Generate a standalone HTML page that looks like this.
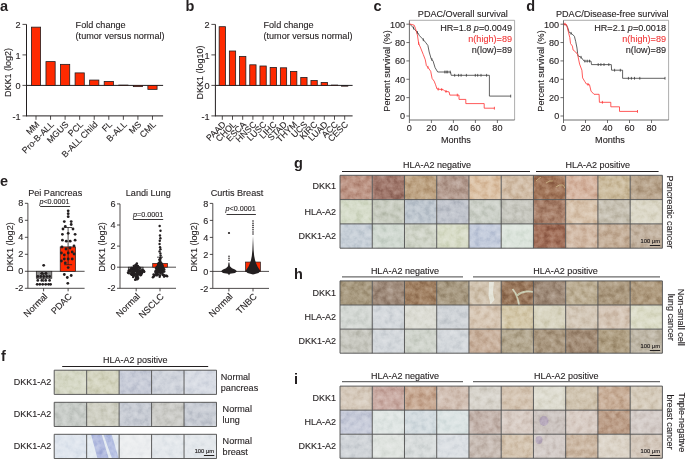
<!DOCTYPE html>
<html><head><meta charset="utf-8"><style>
html,body{margin:0;padding:0;background:#fff;}
body{width:685px;height:459px;overflow:hidden;}
svg{display:block;will-change:transform;}
text{font-family:"Liberation Sans", sans-serif;}
</style></head><body>
<svg width="685" height="459" viewBox="0 0 685 459">
<text x="0.00" y="11.20" font-size="14.5" text-anchor="start" font-weight="bold" fill="#231f20">a</text>
<line x1="26.50" y1="24.40" x2="26.50" y2="116.40" stroke="#231f20" stroke-width="1.0"/>
<line x1="22.50" y1="24.40" x2="26.50" y2="24.40" stroke="#231f20" stroke-width="0.8"/>
<text x="20.70" y="28.20" font-size="9.2" text-anchor="end" fill="#231f20" stroke="#231f20" stroke-width="0.12">2</text>
<line x1="22.50" y1="54.90" x2="26.50" y2="54.90" stroke="#231f20" stroke-width="0.8"/>
<text x="20.70" y="58.70" font-size="9.2" text-anchor="end" fill="#231f20" stroke="#231f20" stroke-width="0.12">1</text>
<line x1="22.50" y1="85.40" x2="26.50" y2="85.40" stroke="#231f20" stroke-width="0.8"/>
<text x="20.70" y="89.20" font-size="9.2" text-anchor="end" fill="#231f20" stroke="#231f20" stroke-width="0.12">0</text>
<line x1="22.50" y1="115.90" x2="26.50" y2="115.90" stroke="#231f20" stroke-width="0.8"/>
<text x="20.70" y="119.70" font-size="9.2" text-anchor="end" fill="#231f20" stroke="#231f20" stroke-width="0.12">-1</text>
<text x="10.50" y="72.50" font-size="9" text-anchor="middle" fill="#231f20" stroke="#231f20" stroke-width="0.12" transform="rotate(-90 10.5 72.5)">DKK1 (log2)</text>
<line x1="26.50" y1="85.40" x2="163.10" y2="85.40" stroke="#231f20" stroke-width="1.0"/>
<line x1="26.50" y1="115.90" x2="163.10" y2="115.90" stroke="#231f20" stroke-width="1.0"/>
<line x1="36.00" y1="115.90" x2="36.00" y2="119.80" stroke="#231f20" stroke-width="0.8"/>
<rect x="31.40" y="27.15" width="9.20" height="58.25" fill="#ff2a00" stroke="#231f20" stroke-width="0.8"/>
<text x="40.00" y="125.00" font-size="8.8" text-anchor="end" fill="#231f20" stroke="#231f20" stroke-width="0.12" transform="rotate(-45 40.0 125.0)">MM</text>
<line x1="50.56" y1="115.90" x2="50.56" y2="119.80" stroke="#231f20" stroke-width="0.8"/>
<rect x="45.96" y="61.61" width="9.20" height="23.79" fill="#ff2a00" stroke="#231f20" stroke-width="0.8"/>
<text x="54.56" y="125.00" font-size="8.8" text-anchor="end" fill="#231f20" stroke="#231f20" stroke-width="0.12" transform="rotate(-45 54.56 125.0)">Pro-B-ALL</text>
<line x1="65.12" y1="115.90" x2="65.12" y2="119.80" stroke="#231f20" stroke-width="0.8"/>
<rect x="60.52" y="64.36" width="9.20" height="21.05" fill="#ff2a00" stroke="#231f20" stroke-width="0.8"/>
<text x="69.12" y="125.00" font-size="8.8" text-anchor="end" fill="#231f20" stroke="#231f20" stroke-width="0.12" transform="rotate(-45 69.12 125.0)">MGUS</text>
<line x1="79.68" y1="115.90" x2="79.68" y2="119.80" stroke="#231f20" stroke-width="0.8"/>
<rect x="75.08" y="72.90" width="9.20" height="12.50" fill="#ff2a00" stroke="#231f20" stroke-width="0.8"/>
<text x="83.68" y="125.00" font-size="8.8" text-anchor="end" fill="#231f20" stroke="#231f20" stroke-width="0.12" transform="rotate(-45 83.68 125.0)">PCL</text>
<line x1="94.24" y1="115.90" x2="94.24" y2="119.80" stroke="#231f20" stroke-width="0.8"/>
<rect x="89.64" y="80.06" width="9.20" height="5.34" fill="#ff2a00" stroke="#231f20" stroke-width="0.8"/>
<text x="98.24" y="125.00" font-size="8.8" text-anchor="end" fill="#231f20" stroke="#231f20" stroke-width="0.12" transform="rotate(-45 98.24000000000001 125.0)">B-ALL Child</text>
<line x1="108.80" y1="115.90" x2="108.80" y2="119.80" stroke="#231f20" stroke-width="0.8"/>
<rect x="104.20" y="81.44" width="9.20" height="3.97" fill="#ff2a00" stroke="#231f20" stroke-width="0.8"/>
<text x="112.80" y="125.00" font-size="8.8" text-anchor="end" fill="#231f20" stroke="#231f20" stroke-width="0.12" transform="rotate(-45 112.8 125.0)">FL</text>
<line x1="123.36" y1="115.90" x2="123.36" y2="119.80" stroke="#231f20" stroke-width="0.8"/>
<rect x="118.76" y="85.09" width="9.20" height="0.31" fill="#ff2a00" stroke="#231f20" stroke-width="0.8"/>
<text x="127.36" y="125.00" font-size="8.8" text-anchor="end" fill="#231f20" stroke="#231f20" stroke-width="0.12" transform="rotate(-45 127.36 125.0)">B-ALL</text>
<line x1="137.92" y1="115.90" x2="137.92" y2="119.80" stroke="#231f20" stroke-width="0.8"/>
<rect x="133.32" y="85.40" width="9.20" height="1.22" fill="#ff2a00" stroke="#231f20" stroke-width="0.8"/>
<text x="141.92" y="125.00" font-size="8.8" text-anchor="end" fill="#231f20" stroke="#231f20" stroke-width="0.12" transform="rotate(-45 141.92000000000002 125.0)">MS</text>
<line x1="152.48" y1="115.90" x2="152.48" y2="119.80" stroke="#231f20" stroke-width="0.8"/>
<rect x="147.88" y="85.40" width="9.20" height="3.97" fill="#ff2a00" stroke="#231f20" stroke-width="0.8"/>
<text x="156.48" y="125.00" font-size="8.8" text-anchor="end" fill="#231f20" stroke="#231f20" stroke-width="0.12" transform="rotate(-45 156.48000000000002 125.0)">CML</text>
<text x="75.60" y="28.40" font-size="9.1" text-anchor="start" fill="#231f20" stroke="#231f20" stroke-width="0.12">Fold change</text>
<text x="75.60" y="38.60" font-size="9.1" text-anchor="start" fill="#231f20" stroke="#231f20" stroke-width="0.12">(tumor versus normal)</text>
<text x="185.50" y="11.20" font-size="14.5" text-anchor="start" font-weight="bold" fill="#231f20">b</text>
<line x1="215.40" y1="24.40" x2="215.40" y2="116.40" stroke="#231f20" stroke-width="1.0"/>
<line x1="211.40" y1="24.40" x2="215.40" y2="24.40" stroke="#231f20" stroke-width="0.8"/>
<text x="209.60" y="28.20" font-size="9.2" text-anchor="end" fill="#231f20" stroke="#231f20" stroke-width="0.12">2</text>
<line x1="211.40" y1="54.90" x2="215.40" y2="54.90" stroke="#231f20" stroke-width="0.8"/>
<text x="209.60" y="58.70" font-size="9.2" text-anchor="end" fill="#231f20" stroke="#231f20" stroke-width="0.12">1</text>
<line x1="211.40" y1="85.40" x2="215.40" y2="85.40" stroke="#231f20" stroke-width="0.8"/>
<text x="209.60" y="89.20" font-size="9.2" text-anchor="end" fill="#231f20" stroke="#231f20" stroke-width="0.12">0</text>
<line x1="211.40" y1="115.90" x2="215.40" y2="115.90" stroke="#231f20" stroke-width="0.8"/>
<text x="209.60" y="119.70" font-size="9.2" text-anchor="end" fill="#231f20" stroke="#231f20" stroke-width="0.12">-1</text>
<text x="202.50" y="72.50" font-size="9" text-anchor="middle" fill="#231f20" stroke="#231f20" stroke-width="0.12" transform="rotate(-90 202.5 72.5)">DKK1 (log10)</text>
<line x1="215.40" y1="85.40" x2="352.60" y2="85.40" stroke="#231f20" stroke-width="1.0"/>
<line x1="215.40" y1="115.90" x2="352.60" y2="115.90" stroke="#231f20" stroke-width="1.0"/>
<line x1="222.30" y1="115.90" x2="222.30" y2="119.80" stroke="#231f20" stroke-width="0.8"/>
<rect x="219.15" y="26.69" width="6.30" height="58.71" fill="#ff2a00" stroke="#231f20" stroke-width="0.8"/>
<text x="226.30" y="125.00" font-size="8.8" text-anchor="end" fill="#231f20" stroke="#231f20" stroke-width="0.12" transform="rotate(-45 226.3 125.0)">PAAD</text>
<line x1="232.50" y1="115.90" x2="232.50" y2="119.80" stroke="#231f20" stroke-width="0.8"/>
<rect x="229.35" y="51.00" width="6.30" height="34.40" fill="#ff2a00" stroke="#231f20" stroke-width="0.8"/>
<text x="236.50" y="125.00" font-size="8.8" text-anchor="end" fill="#231f20" stroke="#231f20" stroke-width="0.12" transform="rotate(-45 236.5 125.0)">CHOL</text>
<line x1="242.70" y1="115.90" x2="242.70" y2="119.80" stroke="#231f20" stroke-width="0.8"/>
<rect x="239.55" y="56.39" width="6.30" height="29.01" fill="#ff2a00" stroke="#231f20" stroke-width="0.8"/>
<text x="246.70" y="125.00" font-size="8.8" text-anchor="end" fill="#231f20" stroke="#231f20" stroke-width="0.12" transform="rotate(-45 246.70000000000002 125.0)">ESCA</text>
<line x1="252.90" y1="115.90" x2="252.90" y2="119.80" stroke="#231f20" stroke-width="0.8"/>
<rect x="249.75" y="64.81" width="6.30" height="20.59" fill="#ff2a00" stroke="#231f20" stroke-width="0.8"/>
<text x="256.90" y="125.00" font-size="8.8" text-anchor="end" fill="#231f20" stroke="#231f20" stroke-width="0.12" transform="rotate(-45 256.9 125.0)">HNSC</text>
<line x1="263.10" y1="115.90" x2="263.10" y2="119.80" stroke="#231f20" stroke-width="0.8"/>
<rect x="259.95" y="66.00" width="6.30" height="19.40" fill="#ff2a00" stroke="#231f20" stroke-width="0.8"/>
<text x="267.10" y="125.00" font-size="8.8" text-anchor="end" fill="#231f20" stroke="#231f20" stroke-width="0.12" transform="rotate(-45 267.1 125.0)">LUSC</text>
<line x1="273.30" y1="115.90" x2="273.30" y2="119.80" stroke="#231f20" stroke-width="0.8"/>
<rect x="270.15" y="67.41" width="6.30" height="18.00" fill="#ff2a00" stroke="#231f20" stroke-width="0.8"/>
<text x="277.30" y="125.00" font-size="8.8" text-anchor="end" fill="#231f20" stroke="#231f20" stroke-width="0.12" transform="rotate(-45 277.3 125.0)">LIHC</text>
<line x1="283.50" y1="115.90" x2="283.50" y2="119.80" stroke="#231f20" stroke-width="0.8"/>
<rect x="280.35" y="67.80" width="6.30" height="17.60" fill="#ff2a00" stroke="#231f20" stroke-width="0.8"/>
<text x="287.50" y="125.00" font-size="8.8" text-anchor="end" fill="#231f20" stroke="#231f20" stroke-width="0.12" transform="rotate(-45 287.5 125.0)">STAD</text>
<line x1="293.70" y1="115.90" x2="293.70" y2="119.80" stroke="#231f20" stroke-width="0.8"/>
<rect x="290.55" y="71.40" width="6.30" height="14.00" fill="#ff2a00" stroke="#231f20" stroke-width="0.8"/>
<text x="297.70" y="125.00" font-size="8.8" text-anchor="end" fill="#231f20" stroke="#231f20" stroke-width="0.12" transform="rotate(-45 297.7 125.0)">THYM</text>
<line x1="303.90" y1="115.90" x2="303.90" y2="119.80" stroke="#231f20" stroke-width="0.8"/>
<rect x="300.75" y="77.41" width="6.30" height="7.99" fill="#ff2a00" stroke="#231f20" stroke-width="0.8"/>
<text x="307.90" y="125.00" font-size="8.8" text-anchor="end" fill="#231f20" stroke="#231f20" stroke-width="0.12" transform="rotate(-45 307.9 125.0)">UCS</text>
<line x1="314.10" y1="115.90" x2="314.10" y2="119.80" stroke="#231f20" stroke-width="0.8"/>
<rect x="310.95" y="80.52" width="6.30" height="4.88" fill="#ff2a00" stroke="#231f20" stroke-width="0.8"/>
<text x="318.10" y="125.00" font-size="8.8" text-anchor="end" fill="#231f20" stroke="#231f20" stroke-width="0.12" transform="rotate(-45 318.1 125.0)">KIRC</text>
<line x1="324.30" y1="115.90" x2="324.30" y2="119.80" stroke="#231f20" stroke-width="0.8"/>
<rect x="321.15" y="82.41" width="6.30" height="2.99" fill="#ff2a00" stroke="#231f20" stroke-width="0.8"/>
<text x="328.30" y="125.00" font-size="8.8" text-anchor="end" fill="#231f20" stroke="#231f20" stroke-width="0.12" transform="rotate(-45 328.3 125.0)">LUAD</text>
<line x1="334.50" y1="115.90" x2="334.50" y2="119.80" stroke="#231f20" stroke-width="0.8"/>
<rect x="331.35" y="85.09" width="6.30" height="0.31" fill="#ff2a00" stroke="#231f20" stroke-width="0.8"/>
<text x="338.50" y="125.00" font-size="8.8" text-anchor="end" fill="#231f20" stroke="#231f20" stroke-width="0.12" transform="rotate(-45 338.5 125.0)">ACC</text>
<line x1="344.70" y1="115.90" x2="344.70" y2="119.80" stroke="#231f20" stroke-width="0.8"/>
<rect x="341.55" y="85.40" width="6.30" height="0.76" fill="#ff2a00" stroke="#231f20" stroke-width="0.8"/>
<text x="348.70" y="125.00" font-size="8.8" text-anchor="end" fill="#231f20" stroke="#231f20" stroke-width="0.12" transform="rotate(-45 348.7 125.0)">CESC</text>
<text x="263.50" y="28.40" font-size="9.1" text-anchor="start" fill="#231f20" stroke="#231f20" stroke-width="0.12">Fold change</text>
<text x="263.50" y="38.60" font-size="9.1" text-anchor="start" fill="#231f20" stroke="#231f20" stroke-width="0.12">(tumor versus normal)</text>
<text x="373.50" y="11.20" font-size="14.5" text-anchor="start" font-weight="bold" fill="#231f20">c</text>
<text x="462.80" y="16.70" font-size="9.1" text-anchor="middle" fill="#231f20" stroke="#231f20" stroke-width="0.12">PDAC/Overall survival</text>
<line x1="409.40" y1="20.30" x2="514.60" y2="20.30" stroke="#8a8a8a" stroke-width="0.7"/>
<line x1="514.60" y1="20.30" x2="514.60" y2="120.00" stroke="#8a8a8a" stroke-width="0.7"/>
<line x1="409.40" y1="20.30" x2="409.40" y2="120.00" stroke="#4a4a4a" stroke-width="0.8"/>
<line x1="409.40" y1="120.00" x2="514.60" y2="120.00" stroke="#4a4a4a" stroke-width="0.8"/>
<line x1="406.40" y1="116.00" x2="409.40" y2="116.00" stroke="#4a4a4a" stroke-width="0.8"/>
<text x="405.10" y="119.30" font-size="9.1" text-anchor="end" fill="#231f20" stroke="#231f20" stroke-width="0.12">0</text>
<line x1="406.40" y1="97.64" x2="409.40" y2="97.64" stroke="#4a4a4a" stroke-width="0.8"/>
<text x="405.10" y="100.94" font-size="9.1" text-anchor="end" fill="#231f20" stroke="#231f20" stroke-width="0.12">20</text>
<line x1="406.40" y1="79.28" x2="409.40" y2="79.28" stroke="#4a4a4a" stroke-width="0.8"/>
<text x="405.10" y="82.58" font-size="9.1" text-anchor="end" fill="#231f20" stroke="#231f20" stroke-width="0.12">40</text>
<line x1="406.40" y1="60.92" x2="409.40" y2="60.92" stroke="#4a4a4a" stroke-width="0.8"/>
<text x="405.10" y="64.22" font-size="9.1" text-anchor="end" fill="#231f20" stroke="#231f20" stroke-width="0.12">60</text>
<line x1="406.40" y1="42.56" x2="409.40" y2="42.56" stroke="#4a4a4a" stroke-width="0.8"/>
<text x="405.10" y="45.86" font-size="9.1" text-anchor="end" fill="#231f20" stroke="#231f20" stroke-width="0.12">80</text>
<line x1="406.40" y1="24.20" x2="409.40" y2="24.20" stroke="#4a4a4a" stroke-width="0.8"/>
<text x="405.10" y="27.50" font-size="9.1" text-anchor="end" fill="#231f20" stroke="#231f20" stroke-width="0.12">100</text>
<line x1="409.40" y1="120.00" x2="409.40" y2="123.00" stroke="#4a4a4a" stroke-width="0.8"/>
<text x="409.40" y="131.00" font-size="9.1" text-anchor="middle" fill="#231f20" stroke="#231f20" stroke-width="0.12">0</text>
<line x1="431.40" y1="120.00" x2="431.40" y2="123.00" stroke="#4a4a4a" stroke-width="0.8"/>
<text x="431.40" y="131.00" font-size="9.1" text-anchor="middle" fill="#231f20" stroke="#231f20" stroke-width="0.12">20</text>
<line x1="453.40" y1="120.00" x2="453.40" y2="123.00" stroke="#4a4a4a" stroke-width="0.8"/>
<text x="453.40" y="131.00" font-size="9.1" text-anchor="middle" fill="#231f20" stroke="#231f20" stroke-width="0.12">40</text>
<line x1="475.40" y1="120.00" x2="475.40" y2="123.00" stroke="#4a4a4a" stroke-width="0.8"/>
<text x="475.40" y="131.00" font-size="9.1" text-anchor="middle" fill="#231f20" stroke="#231f20" stroke-width="0.12">60</text>
<line x1="497.40" y1="120.00" x2="497.40" y2="123.00" stroke="#4a4a4a" stroke-width="0.8"/>
<text x="497.40" y="131.00" font-size="9.1" text-anchor="middle" fill="#231f20" stroke="#231f20" stroke-width="0.12">80</text>
<text x="455.90" y="143.20" font-size="9.1" text-anchor="middle" fill="#231f20" stroke="#231f20" stroke-width="0.12">Months</text>
<text x="389.50" y="71.00" font-size="9.1" text-anchor="middle" fill="#231f20" stroke="#231f20" stroke-width="0.12" transform="rotate(-90 389.5 71)">Percent survival (%)</text>
<path d="M409.6,23.9 L412.8,27.2 L416.1,31.1 L418.0,33.0 L419.4,35.6 L422.6,38.9 L425.9,42.8 L427.9,45.5 L429.2,52.0 L431.1,58.5 L433.1,61.1 L435.1,67.7 L437.7,72.0 L450.5,72.0 L451.2,75.3 L489.4,75.3 L489.4,96.1 L510.7,96.1" fill="none" stroke="#3a3a3a" stroke-width="0.8"/>
<path d="M409.6,23.9 L414.2,25.2 L415.5,28.5 L417.4,35.0 L418.7,43.5 L420.7,48.1 L423.3,54.6 L425.3,59.8 L426.4,65.7 L427.8,67.1 L430.7,71.3 L432.1,78.4 L434.2,81.2 L435.6,84.8 L437.0,89.0 L443.4,89.7 L444.8,91.2 L449.1,91.9 L449.8,95.1 L459.0,95.1 L459.0,99.4 L465.8,99.4 L465.8,103.6 L484.2,103.6 L484.2,108.2 L494.4,108.2" fill="none" stroke="#ff3030" stroke-width="0.8"/>
<line x1="413.50" y1="26.63" x2="413.50" y2="29.43" stroke="#3a3a3a" stroke-width="0.8"/>
<line x1="417.40" y1="31.00" x2="417.40" y2="33.80" stroke="#3a3a3a" stroke-width="0.8"/>
<line x1="423.30" y1="38.33" x2="423.30" y2="41.13" stroke="#3a3a3a" stroke-width="0.8"/>
<line x1="431.80" y1="58.01" x2="431.80" y2="60.81" stroke="#3a3a3a" stroke-width="0.8"/>
<line x1="444.80" y1="70.60" x2="444.80" y2="73.40" stroke="#3a3a3a" stroke-width="0.8"/>
<line x1="446.20" y1="70.60" x2="446.20" y2="73.40" stroke="#3a3a3a" stroke-width="0.8"/>
<line x1="447.70" y1="70.60" x2="447.70" y2="73.40" stroke="#3a3a3a" stroke-width="0.8"/>
<line x1="450.20" y1="70.60" x2="450.20" y2="73.40" stroke="#3a3a3a" stroke-width="0.8"/>
<line x1="454.70" y1="73.90" x2="454.70" y2="76.70" stroke="#3a3a3a" stroke-width="0.8"/>
<line x1="458.60" y1="73.90" x2="458.60" y2="76.70" stroke="#3a3a3a" stroke-width="0.8"/>
<line x1="461.10" y1="73.90" x2="461.10" y2="76.70" stroke="#3a3a3a" stroke-width="0.8"/>
<line x1="466.40" y1="73.90" x2="466.40" y2="76.70" stroke="#3a3a3a" stroke-width="0.8"/>
<line x1="475.30" y1="73.90" x2="475.30" y2="76.70" stroke="#3a3a3a" stroke-width="0.8"/>
<line x1="477.70" y1="73.90" x2="477.70" y2="76.70" stroke="#3a3a3a" stroke-width="0.8"/>
<line x1="481.00" y1="73.90" x2="481.00" y2="76.70" stroke="#3a3a3a" stroke-width="0.8"/>
<line x1="486.60" y1="73.90" x2="486.60" y2="76.70" stroke="#3a3a3a" stroke-width="0.8"/>
<line x1="510.70" y1="94.70" x2="510.70" y2="97.50" stroke="#3a3a3a" stroke-width="0.8"/>
<line x1="418.70" y1="42.10" x2="418.70" y2="44.90" stroke="#ff3030" stroke-width="0.8"/>
<line x1="427.90" y1="65.84" x2="427.90" y2="68.64" stroke="#ff3030" stroke-width="0.8"/>
<line x1="438.20" y1="87.73" x2="438.20" y2="90.53" stroke="#ff3030" stroke-width="0.8"/>
<line x1="441.70" y1="88.11" x2="441.70" y2="90.91" stroke="#ff3030" stroke-width="0.8"/>
<line x1="446.00" y1="90.00" x2="446.00" y2="92.80" stroke="#ff3030" stroke-width="0.8"/>
<line x1="457.30" y1="93.70" x2="457.30" y2="96.50" stroke="#ff3030" stroke-width="0.8"/>
<line x1="494.40" y1="106.80" x2="494.40" y2="109.60" stroke="#ff3030" stroke-width="0.8"/>
<text x="512.0" y="31.3" font-size="9.1" text-anchor="end" fill="#231f20" stroke="#231f20" stroke-width="0.12">HR=1.8 <tspan font-style="italic">p</tspan>=0.0049</text>
<text x="512.00" y="42.10" font-size="9.1" text-anchor="end" fill="#f03a3a" stroke="#f03a3a" stroke-width="0.12">n(high)=89</text>
<text x="512.00" y="52.90" font-size="9.1" text-anchor="end" fill="#231f20" stroke="#231f20" stroke-width="0.12">n(low)=89</text>
<text x="526.30" y="11.20" font-size="14.5" text-anchor="start" font-weight="bold" fill="#231f20">d</text>
<text x="612.30" y="16.70" font-size="9.1" text-anchor="middle" fill="#231f20" stroke="#231f20" stroke-width="0.12">PDAC/Disease-free survival</text>
<line x1="563.50" y1="20.30" x2="668.60" y2="20.30" stroke="#8a8a8a" stroke-width="0.7"/>
<line x1="668.60" y1="20.30" x2="668.60" y2="120.00" stroke="#8a8a8a" stroke-width="0.7"/>
<line x1="563.50" y1="20.30" x2="563.50" y2="120.00" stroke="#4a4a4a" stroke-width="0.8"/>
<line x1="563.50" y1="120.00" x2="668.60" y2="120.00" stroke="#4a4a4a" stroke-width="0.8"/>
<line x1="560.50" y1="116.00" x2="563.50" y2="116.00" stroke="#4a4a4a" stroke-width="0.8"/>
<text x="559.20" y="119.30" font-size="9.1" text-anchor="end" fill="#231f20" stroke="#231f20" stroke-width="0.12">0</text>
<line x1="560.50" y1="97.64" x2="563.50" y2="97.64" stroke="#4a4a4a" stroke-width="0.8"/>
<text x="559.20" y="100.94" font-size="9.1" text-anchor="end" fill="#231f20" stroke="#231f20" stroke-width="0.12">20</text>
<line x1="560.50" y1="79.28" x2="563.50" y2="79.28" stroke="#4a4a4a" stroke-width="0.8"/>
<text x="559.20" y="82.58" font-size="9.1" text-anchor="end" fill="#231f20" stroke="#231f20" stroke-width="0.12">40</text>
<line x1="560.50" y1="60.92" x2="563.50" y2="60.92" stroke="#4a4a4a" stroke-width="0.8"/>
<text x="559.20" y="64.22" font-size="9.1" text-anchor="end" fill="#231f20" stroke="#231f20" stroke-width="0.12">60</text>
<line x1="560.50" y1="42.56" x2="563.50" y2="42.56" stroke="#4a4a4a" stroke-width="0.8"/>
<text x="559.20" y="45.86" font-size="9.1" text-anchor="end" fill="#231f20" stroke="#231f20" stroke-width="0.12">80</text>
<line x1="560.50" y1="24.20" x2="563.50" y2="24.20" stroke="#4a4a4a" stroke-width="0.8"/>
<text x="559.20" y="27.50" font-size="9.1" text-anchor="end" fill="#231f20" stroke="#231f20" stroke-width="0.12">100</text>
<line x1="563.50" y1="120.00" x2="563.50" y2="123.00" stroke="#4a4a4a" stroke-width="0.8"/>
<text x="563.50" y="131.00" font-size="9.1" text-anchor="middle" fill="#231f20" stroke="#231f20" stroke-width="0.12">0</text>
<line x1="585.50" y1="120.00" x2="585.50" y2="123.00" stroke="#4a4a4a" stroke-width="0.8"/>
<text x="585.50" y="131.00" font-size="9.1" text-anchor="middle" fill="#231f20" stroke="#231f20" stroke-width="0.12">20</text>
<line x1="607.50" y1="120.00" x2="607.50" y2="123.00" stroke="#4a4a4a" stroke-width="0.8"/>
<text x="607.50" y="131.00" font-size="9.1" text-anchor="middle" fill="#231f20" stroke="#231f20" stroke-width="0.12">40</text>
<line x1="629.50" y1="120.00" x2="629.50" y2="123.00" stroke="#4a4a4a" stroke-width="0.8"/>
<text x="629.50" y="131.00" font-size="9.1" text-anchor="middle" fill="#231f20" stroke="#231f20" stroke-width="0.12">60</text>
<line x1="651.50" y1="120.00" x2="651.50" y2="123.00" stroke="#4a4a4a" stroke-width="0.8"/>
<text x="651.50" y="131.00" font-size="9.1" text-anchor="middle" fill="#231f20" stroke="#231f20" stroke-width="0.12">80</text>
<text x="610.00" y="143.20" font-size="9.1" text-anchor="middle" fill="#231f20" stroke="#231f20" stroke-width="0.12">Months</text>
<text x="543.50" y="71.00" font-size="9.1" text-anchor="middle" fill="#231f20" stroke="#231f20" stroke-width="0.12" transform="rotate(-90 543.5 71)">Percent survival (%)</text>
<path d="M563.6,23.9 L566.5,25.2 L567.8,27.8 L569.2,32.4 L571.8,33.7 L574.4,36.3 L575.7,41.5 L577.0,48.1 L577.6,53.3 L578.0,55.8 L581.1,57.3 L584.1,61.1 L591.0,61.1 L591.5,64.6 L611.3,64.6 L611.6,70.2 L622.6,70.2 L622.6,78.3 L665.0,78.3" fill="none" stroke="#3a3a3a" stroke-width="0.8"/>
<path d="M563.6,23.9 L566.5,24.5 L568.5,32.4 L569.8,37.6 L570.5,43.5 L572.4,46.1 L573.1,50.0 L575.7,52.0 L577.6,54.5 L579.6,64.1 L581.9,70.2 L582.6,77.9 L584.9,81.7 L586.4,84.0 L589.5,84.7 L591.0,91.1 L594.0,94.3 L599.1,94.3 L599.4,102.3 L610.8,102.3 L610.8,106.8 L619.5,106.8 L619.5,111.4 L637.5,111.4" fill="none" stroke="#ff3030" stroke-width="0.8"/>
<line x1="571.10" y1="31.95" x2="571.10" y2="34.75" stroke="#3a3a3a" stroke-width="0.8"/>
<line x1="581.10" y1="55.90" x2="581.10" y2="58.70" stroke="#3a3a3a" stroke-width="0.8"/>
<line x1="584.90" y1="59.70" x2="584.90" y2="62.50" stroke="#3a3a3a" stroke-width="0.8"/>
<line x1="587.20" y1="59.70" x2="587.20" y2="62.50" stroke="#3a3a3a" stroke-width="0.8"/>
<line x1="589.50" y1="59.70" x2="589.50" y2="62.50" stroke="#3a3a3a" stroke-width="0.8"/>
<line x1="598.20" y1="63.20" x2="598.20" y2="66.00" stroke="#3a3a3a" stroke-width="0.8"/>
<line x1="600.90" y1="63.20" x2="600.90" y2="66.00" stroke="#3a3a3a" stroke-width="0.8"/>
<line x1="604.00" y1="63.20" x2="604.00" y2="66.00" stroke="#3a3a3a" stroke-width="0.8"/>
<line x1="608.80" y1="63.20" x2="608.80" y2="66.00" stroke="#3a3a3a" stroke-width="0.8"/>
<line x1="614.60" y1="68.80" x2="614.60" y2="71.60" stroke="#3a3a3a" stroke-width="0.8"/>
<line x1="620.30" y1="68.80" x2="620.30" y2="71.60" stroke="#3a3a3a" stroke-width="0.8"/>
<line x1="628.40" y1="76.90" x2="628.40" y2="79.70" stroke="#3a3a3a" stroke-width="0.8"/>
<line x1="631.40" y1="76.90" x2="631.40" y2="79.70" stroke="#3a3a3a" stroke-width="0.8"/>
<line x1="634.50" y1="76.90" x2="634.50" y2="79.70" stroke="#3a3a3a" stroke-width="0.8"/>
<line x1="639.80" y1="76.90" x2="639.80" y2="79.70" stroke="#3a3a3a" stroke-width="0.8"/>
<line x1="665.00" y1="76.90" x2="665.00" y2="79.70" stroke="#3a3a3a" stroke-width="0.8"/>
<line x1="565.00" y1="22.79" x2="565.00" y2="25.59" stroke="#ff3030" stroke-width="0.8"/>
<line x1="588.00" y1="82.96" x2="588.00" y2="85.76" stroke="#ff3030" stroke-width="0.8"/>
<line x1="602.40" y1="100.90" x2="602.40" y2="103.70" stroke="#ff3030" stroke-width="0.8"/>
<line x1="637.50" y1="110.00" x2="637.50" y2="112.80" stroke="#ff3030" stroke-width="0.8"/>
<text x="666.0" y="31.3" font-size="9.1" text-anchor="end" fill="#231f20" stroke="#231f20" stroke-width="0.12">HR=2.1 <tspan font-style="italic">p</tspan>=0.0018</text>
<text x="666.00" y="42.10" font-size="9.1" text-anchor="end" fill="#f03a3a" stroke="#f03a3a" stroke-width="0.12">n(high)=89</text>
<text x="666.00" y="52.90" font-size="9.1" text-anchor="end" fill="#231f20" stroke="#231f20" stroke-width="0.12">n(low)=89</text>
<text x="0.00" y="185.80" font-size="14.5" text-anchor="start" font-weight="bold" fill="#231f20">e</text>
<text x="55.20" y="195.60" font-size="9.1" text-anchor="middle" fill="#231f20" stroke="#231f20" stroke-width="0.12">Pei Pancreas</text>
<line x1="27.90" y1="203.30" x2="27.90" y2="288.30" stroke="#231f20" stroke-width="0.8"/>
<line x1="24.90" y1="288.30" x2="27.90" y2="288.30" stroke="#231f20" stroke-width="0.8"/>
<text x="23.40" y="291.40" font-size="9.1" text-anchor="end" fill="#231f20" stroke="#231f20" stroke-width="0.12">-2</text>
<line x1="24.90" y1="271.30" x2="27.90" y2="271.30" stroke="#231f20" stroke-width="0.8"/>
<text x="23.40" y="274.40" font-size="9.1" text-anchor="end" fill="#231f20" stroke="#231f20" stroke-width="0.12">0</text>
<line x1="24.90" y1="254.30" x2="27.90" y2="254.30" stroke="#231f20" stroke-width="0.8"/>
<text x="23.40" y="257.40" font-size="9.1" text-anchor="end" fill="#231f20" stroke="#231f20" stroke-width="0.12">2</text>
<line x1="24.90" y1="237.30" x2="27.90" y2="237.30" stroke="#231f20" stroke-width="0.8"/>
<text x="23.40" y="240.40" font-size="9.1" text-anchor="end" fill="#231f20" stroke="#231f20" stroke-width="0.12">4</text>
<line x1="24.90" y1="220.30" x2="27.90" y2="220.30" stroke="#231f20" stroke-width="0.8"/>
<text x="23.40" y="223.40" font-size="9.1" text-anchor="end" fill="#231f20" stroke="#231f20" stroke-width="0.12">6</text>
<line x1="24.90" y1="203.30" x2="27.90" y2="203.30" stroke="#231f20" stroke-width="0.8"/>
<text x="23.40" y="206.40" font-size="9.1" text-anchor="end" fill="#231f20" stroke="#231f20" stroke-width="0.12">8</text>
<line x1="27.90" y1="271.30" x2="84.60" y2="271.30" stroke="#231f20" stroke-width="0.8"/>
<line x1="27.90" y1="288.30" x2="84.60" y2="288.30" stroke="#231f20" stroke-width="0.8"/>
<line x1="43.60" y1="288.30" x2="43.60" y2="291.30" stroke="#231f20" stroke-width="0.8"/>
<line x1="68.10" y1="288.30" x2="68.10" y2="291.30" stroke="#231f20" stroke-width="0.8"/>
<text x="12.50" y="247.00" font-size="9.1" text-anchor="middle" fill="#231f20" stroke="#231f20" stroke-width="0.12" transform="rotate(-90 12.5 247)">DKK1 (log2)</text>
<text x="2.00" y="2.00" font-size="1" text-anchor="start" fill="#231f20" stroke="#231f20" stroke-width="0.12"></text>
<rect x="36.30" y="271.30" width="15.50" height="6.97" fill="#8c8c8c" stroke="#231f20" stroke-width="0.7"/>
<rect x="60.20" y="246.91" width="15.40" height="24.40" fill="#ff2a00" stroke="#231f20" stroke-width="0.7"/>
<circle cx="68.2" cy="210.8" r="1.4" fill="#231f20"/>
<circle cx="68.2" cy="213.7" r="1.4" fill="#231f20"/>
<circle cx="68.2" cy="216.7" r="1.4" fill="#231f20"/>
<circle cx="64.3" cy="221.6" r="1.4" fill="#231f20"/>
<circle cx="71.2" cy="221.6" r="1.4" fill="#231f20"/>
<circle cx="65.3" cy="226.5" r="1.4" fill="#231f20"/>
<circle cx="71.2" cy="224.5" r="1.4" fill="#231f20"/>
<circle cx="62.4" cy="234.3" r="1.4" fill="#231f20"/>
<circle cx="68.2" cy="233.3" r="1.4" fill="#231f20"/>
<circle cx="75.1" cy="234.3" r="1.4" fill="#231f20"/>
<circle cx="62.4" cy="240.2" r="1.4" fill="#231f20"/>
<circle cx="66.3" cy="241.2" r="1.4" fill="#231f20"/>
<circle cx="70.2" cy="241.2" r="1.4" fill="#231f20"/>
<circle cx="75.1" cy="240.2" r="1.4" fill="#231f20"/>
<circle cx="61.4" cy="253" r="1.4" fill="#231f20"/>
<circle cx="64.3" cy="255" r="1.4" fill="#231f20"/>
<circle cx="68.2" cy="253" r="1.4" fill="#231f20"/>
<circle cx="72.2" cy="252" r="1.4" fill="#231f20"/>
<circle cx="74.1" cy="254" r="1.4" fill="#231f20"/>
<circle cx="64.3" cy="259" r="1.4" fill="#231f20"/>
<circle cx="68.2" cy="259" r="1.4" fill="#231f20"/>
<circle cx="72.2" cy="259" r="1.4" fill="#231f20"/>
<circle cx="61.4" cy="261" r="1.4" fill="#231f20"/>
<circle cx="65.3" cy="263" r="1.4" fill="#231f20"/>
<circle cx="68.2" cy="267.6" r="1.4" fill="#231f20"/>
<circle cx="64.3" cy="274.5" r="1.4" fill="#231f20"/>
<circle cx="71.2" cy="275.5" r="1.4" fill="#231f20"/>
<circle cx="67.3" cy="277.5" r="1.4" fill="#231f20"/>
<circle cx="67.8" cy="283.3" r="1.4" fill="#231f20"/>
<circle cx="62" cy="247" r="1.4" fill="#231f20"/>
<circle cx="66" cy="249" r="1.4" fill="#231f20"/>
<circle cx="70" cy="248" r="1.4" fill="#231f20"/>
<circle cx="74" cy="246" r="1.4" fill="#231f20"/>
<circle cx="63" cy="229" r="1.4" fill="#231f20"/>
<circle cx="73" cy="229" r="1.4" fill="#231f20"/>
<circle cx="37.8" cy="276.5" r="1.4" fill="#231f20"/>
<circle cx="40.8" cy="276.5" r="1.4" fill="#231f20"/>
<circle cx="43.7" cy="276.5" r="1.4" fill="#231f20"/>
<circle cx="46.7" cy="276.5" r="1.4" fill="#231f20"/>
<circle cx="49.6" cy="276.5" r="1.4" fill="#231f20"/>
<circle cx="37.8" cy="280.4" r="1.4" fill="#231f20"/>
<circle cx="41.8" cy="280.4" r="1.4" fill="#231f20"/>
<circle cx="45.7" cy="280.4" r="1.4" fill="#231f20"/>
<circle cx="49.6" cy="280.4" r="1.4" fill="#231f20"/>
<circle cx="37.2" cy="284.3" r="1.4" fill="#231f20"/>
<circle cx="39.8" cy="284.3" r="1.4" fill="#231f20"/>
<circle cx="42.7" cy="284.3" r="1.4" fill="#231f20"/>
<circle cx="45.7" cy="284.3" r="1.4" fill="#231f20"/>
<circle cx="48.6" cy="284.3" r="1.4" fill="#231f20"/>
<circle cx="50.6" cy="284.3" r="1.4" fill="#231f20"/>
<circle cx="43.7" cy="265.3" r="1.4" fill="#231f20"/>
<circle cx="42" cy="273.5" r="1.4" fill="#231f20"/>
<circle cx="46" cy="273.5" r="1.4" fill="#231f20"/>
<line x1="68.10" y1="227.50" x2="68.10" y2="264.70" stroke="#231f20" stroke-width="0.8"/>
<line x1="64.10" y1="227.50" x2="72.10" y2="227.50" stroke="#231f20" stroke-width="0.8"/>
<line x1="64.10" y1="264.70" x2="72.10" y2="264.70" stroke="#231f20" stroke-width="0.8"/>
<line x1="43.60" y1="273.50" x2="43.60" y2="282.00" stroke="#231f20" stroke-width="0.8"/>
<line x1="40.00" y1="273.50" x2="47.20" y2="273.50" stroke="#231f20" stroke-width="0.8"/>
<text x="54.50" y="203.60" font-size="7.2" text-anchor="middle" fill="#231f20" stroke="#231f20" stroke-width="0.12"><tspan font-style="italic">p</tspan>&lt;0.0001</text>
<line x1="40.20" y1="206.50" x2="70.20" y2="206.50" stroke="#231f20" stroke-width="0.9"/>
<text x="48.00" y="297.00" font-size="9.1" text-anchor="end" fill="#231f20" stroke="#231f20" stroke-width="0.12" transform="rotate(-45 48.0 297.0)">Normal</text>
<text x="72.50" y="297.00" font-size="9.1" text-anchor="end" fill="#231f20" stroke="#231f20" stroke-width="0.12" transform="rotate(-45 72.5 297.0)">PDAC</text>
<text x="148.30" y="195.60" font-size="9.1" text-anchor="middle" fill="#231f20" stroke="#231f20" stroke-width="0.12">Landi Lung</text>
<line x1="120.00" y1="203.90" x2="120.00" y2="288.30" stroke="#231f20" stroke-width="0.8"/>
<line x1="117.00" y1="288.30" x2="120.00" y2="288.30" stroke="#231f20" stroke-width="0.8"/>
<text x="115.50" y="291.40" font-size="9.1" text-anchor="end" fill="#231f20" stroke="#231f20" stroke-width="0.12">-2</text>
<line x1="117.00" y1="267.20" x2="120.00" y2="267.20" stroke="#231f20" stroke-width="0.8"/>
<text x="115.50" y="270.30" font-size="9.1" text-anchor="end" fill="#231f20" stroke="#231f20" stroke-width="0.12">0</text>
<line x1="117.00" y1="246.10" x2="120.00" y2="246.10" stroke="#231f20" stroke-width="0.8"/>
<text x="115.50" y="249.20" font-size="9.1" text-anchor="end" fill="#231f20" stroke="#231f20" stroke-width="0.12">2</text>
<line x1="117.00" y1="225.00" x2="120.00" y2="225.00" stroke="#231f20" stroke-width="0.8"/>
<text x="115.50" y="228.10" font-size="9.1" text-anchor="end" fill="#231f20" stroke="#231f20" stroke-width="0.12">4</text>
<line x1="117.00" y1="203.90" x2="120.00" y2="203.90" stroke="#231f20" stroke-width="0.8"/>
<text x="115.50" y="207.00" font-size="9.1" text-anchor="end" fill="#231f20" stroke="#231f20" stroke-width="0.12">6</text>
<line x1="120.00" y1="267.20" x2="176.00" y2="267.20" stroke="#231f20" stroke-width="0.8"/>
<line x1="120.00" y1="288.30" x2="176.00" y2="288.30" stroke="#231f20" stroke-width="0.8"/>
<line x1="136.20" y1="288.30" x2="136.20" y2="291.30" stroke="#231f20" stroke-width="0.8"/>
<line x1="160.00" y1="288.30" x2="160.00" y2="291.30" stroke="#231f20" stroke-width="0.8"/>
<text x="104.50" y="247.00" font-size="9.1" text-anchor="middle" fill="#231f20" stroke="#231f20" stroke-width="0.12" transform="rotate(-90 104.5 247)">DKK1 (log2)</text>
<rect x="128.30" y="267.20" width="14.80" height="4.43" fill="#8c8c8c" stroke="#231f20" stroke-width="0.7"/>
<rect x="152.70" y="263.40" width="14.80" height="3.80" fill="#ff2a00" stroke="#231f20" stroke-width="0.7"/>
<circle cx="133.88" cy="271.31" r="1.2" fill="#231f20"/>
<circle cx="136.79" cy="267.41" r="1.2" fill="#231f20"/>
<circle cx="128.02" cy="272.51" r="1.2" fill="#231f20"/>
<circle cx="141.53" cy="272.51" r="1.2" fill="#231f20"/>
<circle cx="144.22" cy="271.78" r="1.2" fill="#231f20"/>
<circle cx="135.64" cy="269.17" r="1.2" fill="#231f20"/>
<circle cx="137.87" cy="269.65" r="1.2" fill="#231f20"/>
<circle cx="131.90" cy="274.92" r="1.2" fill="#231f20"/>
<circle cx="136.20" cy="276.13" r="1.2" fill="#231f20"/>
<circle cx="137.70" cy="276.72" r="1.2" fill="#231f20"/>
<circle cx="140.27" cy="272.21" r="1.2" fill="#231f20"/>
<circle cx="137.48" cy="272.71" r="1.2" fill="#231f20"/>
<circle cx="142.07" cy="271.90" r="1.2" fill="#231f20"/>
<circle cx="135.57" cy="270.83" r="1.2" fill="#231f20"/>
<circle cx="139.41" cy="272.98" r="1.2" fill="#231f20"/>
<circle cx="137.65" cy="278.43" r="1.2" fill="#231f20"/>
<circle cx="135.57" cy="276.42" r="1.2" fill="#231f20"/>
<circle cx="139.87" cy="267.91" r="1.2" fill="#231f20"/>
<circle cx="130.43" cy="270.52" r="1.2" fill="#231f20"/>
<circle cx="131.40" cy="272.69" r="1.2" fill="#231f20"/>
<circle cx="137.19" cy="268.10" r="1.2" fill="#231f20"/>
<circle cx="132.73" cy="272.41" r="1.2" fill="#231f20"/>
<circle cx="134.27" cy="274.96" r="1.2" fill="#231f20"/>
<circle cx="137.41" cy="271.78" r="1.2" fill="#231f20"/>
<circle cx="136.85" cy="277.94" r="1.2" fill="#231f20"/>
<circle cx="140.57" cy="275.32" r="1.2" fill="#231f20"/>
<circle cx="136.62" cy="265.21" r="1.2" fill="#231f20"/>
<circle cx="135.12" cy="279.76" r="1.2" fill="#231f20"/>
<circle cx="137.94" cy="266.04" r="1.2" fill="#231f20"/>
<circle cx="136.28" cy="278.33" r="1.2" fill="#231f20"/>
<circle cx="141.50" cy="272.16" r="1.2" fill="#231f20"/>
<circle cx="137.05" cy="273.90" r="1.2" fill="#231f20"/>
<circle cx="141.87" cy="271.90" r="1.2" fill="#231f20"/>
<circle cx="143.42" cy="270.44" r="1.2" fill="#231f20"/>
<circle cx="135.50" cy="266.48" r="1.2" fill="#231f20"/>
<circle cx="132.42" cy="268.43" r="1.2" fill="#231f20"/>
<circle cx="141.81" cy="273.20" r="1.2" fill="#231f20"/>
<circle cx="133.79" cy="266.07" r="1.2" fill="#231f20"/>
<circle cx="139.60" cy="272.40" r="1.2" fill="#231f20"/>
<circle cx="133.21" cy="272.31" r="1.2" fill="#231f20"/>
<circle cx="136.02" cy="264.68" r="1.2" fill="#231f20"/>
<circle cx="138.21" cy="278.08" r="1.2" fill="#231f20"/>
<circle cx="137.65" cy="272.13" r="1.2" fill="#231f20"/>
<circle cx="128.95" cy="270.37" r="1.2" fill="#231f20"/>
<circle cx="137.69" cy="270.51" r="1.2" fill="#231f20"/>
<circle cx="132.53" cy="268.36" r="1.2" fill="#231f20"/>
<circle cx="135.36" cy="265.08" r="1.2" fill="#231f20"/>
<circle cx="142.38" cy="269.84" r="1.2" fill="#231f20"/>
<circle cx="135.53" cy="269.01" r="1.2" fill="#231f20"/>
<circle cx="136.30" cy="273.62" r="1.2" fill="#231f20"/>
<circle cx="136.77" cy="274.44" r="1.2" fill="#231f20"/>
<circle cx="137.32" cy="275.20" r="1.2" fill="#231f20"/>
<circle cx="135.39" cy="267.89" r="1.2" fill="#231f20"/>
<circle cx="139.47" cy="273.09" r="1.2" fill="#231f20"/>
<circle cx="143.84" cy="271.41" r="1.2" fill="#231f20"/>
<circle cx="136.24" cy="268.78" r="1.2" fill="#231f20"/>
<circle cx="134.59" cy="272.12" r="1.2" fill="#231f20"/>
<circle cx="137.33" cy="271.78" r="1.2" fill="#231f20"/>
<circle cx="136.88" cy="267.00" r="1.2" fill="#231f20"/>
<circle cx="128.93" cy="271.04" r="1.2" fill="#231f20"/>
<circle cx="138.41" cy="274.27" r="1.2" fill="#231f20"/>
<circle cx="134.05" cy="274.35" r="1.2" fill="#231f20"/>
<circle cx="128.48" cy="273.11" r="1.2" fill="#231f20"/>
<circle cx="133.13" cy="276.96" r="1.2" fill="#231f20"/>
<circle cx="133.48" cy="275.52" r="1.2" fill="#231f20"/>
<circle cx="135.87" cy="279.39" r="1.2" fill="#231f20"/>
<circle cx="134.12" cy="274.11" r="1.2" fill="#231f20"/>
<circle cx="133.10" cy="273.26" r="1.2" fill="#231f20"/>
<circle cx="133.55" cy="274.72" r="1.2" fill="#231f20"/>
<circle cx="134.78" cy="268.30" r="1.2" fill="#231f20"/>
<circle cx="137.14" cy="271.52" r="1.2" fill="#231f20"/>
<circle cx="139.87" cy="272.41" r="1.2" fill="#231f20"/>
<circle cx="140.98" cy="272.51" r="1.2" fill="#231f20"/>
<circle cx="132.64" cy="269.40" r="1.2" fill="#231f20"/>
<circle cx="138.93" cy="270.25" r="1.2" fill="#231f20"/>
<circle cx="132.06" cy="268.30" r="1.2" fill="#231f20"/>
<circle cx="141.31" cy="272.96" r="1.2" fill="#231f20"/>
<circle cx="135.29" cy="268.89" r="1.2" fill="#231f20"/>
<circle cx="133.55" cy="270.37" r="1.2" fill="#231f20"/>
<circle cx="138.33" cy="273.25" r="1.2" fill="#231f20"/>
<circle cx="132.86" cy="268.86" r="1.2" fill="#231f20"/>
<circle cx="130.74" cy="274.08" r="1.2" fill="#231f20"/>
<circle cx="140.45" cy="273.79" r="1.2" fill="#231f20"/>
<circle cx="141.62" cy="272.04" r="1.2" fill="#231f20"/>
<circle cx="140.70" cy="270.53" r="1.2" fill="#231f20"/>
<circle cx="137.73" cy="269.14" r="1.2" fill="#231f20"/>
<circle cx="130.31" cy="270.56" r="1.2" fill="#231f20"/>
<circle cx="133.35" cy="274.55" r="1.2" fill="#231f20"/>
<circle cx="133.56" cy="270.90" r="1.2" fill="#231f20"/>
<circle cx="134.87" cy="274.21" r="1.2" fill="#231f20"/>
<circle cx="141.22" cy="274.67" r="1.2" fill="#231f20"/>
<circle cx="131.12" cy="269.96" r="1.2" fill="#231f20"/>
<circle cx="136.86" cy="263.55" r="1.2" fill="#231f20"/>
<circle cx="143.98" cy="271.39" r="1.2" fill="#231f20"/>
<circle cx="137.30" cy="279.21" r="1.2" fill="#231f20"/>
<circle cx="133.23" cy="268.32" r="1.2" fill="#231f20"/>
<circle cx="138.70" cy="271.81" r="1.2" fill="#231f20"/>
<circle cx="136.08" cy="278.06" r="1.2" fill="#231f20"/>
<circle cx="131.51" cy="272.38" r="1.2" fill="#231f20"/>
<circle cx="131.32" cy="268.64" r="1.2" fill="#231f20"/>
<circle cx="140.36" cy="273.99" r="1.2" fill="#231f20"/>
<circle cx="128.84" cy="273.10" r="1.2" fill="#231f20"/>
<circle cx="139.18" cy="267.36" r="1.2" fill="#231f20"/>
<circle cx="141.00" cy="274.59" r="1.2" fill="#231f20"/>
<circle cx="131.49" cy="268.05" r="1.2" fill="#231f20"/>
<circle cx="139.31" cy="274.24" r="1.2" fill="#231f20"/>
<circle cx="138.42" cy="270.29" r="1.2" fill="#231f20"/>
<circle cx="136.30" cy="269.12" r="1.2" fill="#231f20"/>
<circle cx="136.43" cy="278.47" r="1.2" fill="#231f20"/>
<circle cx="134.75" cy="267.51" r="1.2" fill="#231f20"/>
<circle cx="159.65" cy="226.05" r="1.2" fill="#231f20"/>
<circle cx="160.51" cy="230.80" r="1.2" fill="#231f20"/>
<circle cx="159.97" cy="235.55" r="1.2" fill="#231f20"/>
<circle cx="160.40" cy="238.19" r="1.2" fill="#231f20"/>
<circle cx="159.79" cy="240.82" r="1.2" fill="#231f20"/>
<circle cx="159.58" cy="243.99" r="1.2" fill="#231f20"/>
<circle cx="160.05" cy="247.15" r="1.2" fill="#231f20"/>
<circle cx="160.44" cy="249.26" r="1.2" fill="#231f20"/>
<circle cx="159.54" cy="251.38" r="1.2" fill="#231f20"/>
<circle cx="160.41" cy="253.48" r="1.2" fill="#231f20"/>
<circle cx="160.59" cy="255.59" r="1.2" fill="#231f20"/>
<circle cx="160.43" cy="257.70" r="1.2" fill="#231f20"/>
<circle cx="160.45" cy="258.76" r="1.2" fill="#231f20"/>
<circle cx="159.31" cy="259.81" r="1.2" fill="#231f20"/>
<circle cx="160.18" cy="260.87" r="1.2" fill="#231f20"/>
<circle cx="158.23" cy="264.03" r="1.2" fill="#231f20"/>
<circle cx="157.18" cy="273.07" r="1.2" fill="#231f20"/>
<circle cx="159.34" cy="269.16" r="1.2" fill="#231f20"/>
<circle cx="162.59" cy="269.99" r="1.2" fill="#231f20"/>
<circle cx="152.89" cy="277.19" r="1.2" fill="#231f20"/>
<circle cx="154.66" cy="275.28" r="1.2" fill="#231f20"/>
<circle cx="167.14" cy="276.18" r="1.2" fill="#231f20"/>
<circle cx="158.33" cy="264.15" r="1.2" fill="#231f20"/>
<circle cx="158.35" cy="269.54" r="1.2" fill="#231f20"/>
<circle cx="158.28" cy="272.41" r="1.2" fill="#231f20"/>
<circle cx="160.60" cy="267.33" r="1.2" fill="#231f20"/>
<circle cx="156.62" cy="271.70" r="1.2" fill="#231f20"/>
<circle cx="155.71" cy="272.19" r="1.2" fill="#231f20"/>
<circle cx="161.78" cy="268.72" r="1.2" fill="#231f20"/>
<circle cx="155.51" cy="271.41" r="1.2" fill="#231f20"/>
<circle cx="158.29" cy="274.49" r="1.2" fill="#231f20"/>
<circle cx="162.13" cy="267.98" r="1.2" fill="#231f20"/>
<circle cx="163.22" cy="271.41" r="1.2" fill="#231f20"/>
<circle cx="159.50" cy="267.69" r="1.2" fill="#231f20"/>
<circle cx="159.96" cy="271.53" r="1.2" fill="#231f20"/>
<circle cx="159.51" cy="266.47" r="1.2" fill="#231f20"/>
<circle cx="159.75" cy="266.60" r="1.2" fill="#231f20"/>
<circle cx="160.45" cy="273.47" r="1.2" fill="#231f20"/>
<circle cx="157.31" cy="266.59" r="1.2" fill="#231f20"/>
<circle cx="159.25" cy="270.72" r="1.2" fill="#231f20"/>
<circle cx="161.61" cy="263.77" r="1.2" fill="#231f20"/>
<circle cx="164.28" cy="271.50" r="1.2" fill="#231f20"/>
<circle cx="158.83" cy="265.12" r="1.2" fill="#231f20"/>
<circle cx="156.42" cy="270.12" r="1.2" fill="#231f20"/>
<circle cx="160.75" cy="264.78" r="1.2" fill="#231f20"/>
<circle cx="161.05" cy="263.65" r="1.2" fill="#231f20"/>
<circle cx="161.56" cy="267.01" r="1.2" fill="#231f20"/>
<circle cx="156.78" cy="268.60" r="1.2" fill="#231f20"/>
<circle cx="156.15" cy="268.23" r="1.2" fill="#231f20"/>
<circle cx="163.84" cy="275.03" r="1.2" fill="#231f20"/>
<circle cx="153.72" cy="276.54" r="1.2" fill="#231f20"/>
<circle cx="165.56" cy="275.70" r="1.2" fill="#231f20"/>
<circle cx="153.57" cy="274.48" r="1.2" fill="#231f20"/>
<circle cx="158.40" cy="264.35" r="1.2" fill="#231f20"/>
<circle cx="160.73" cy="264.31" r="1.2" fill="#231f20"/>
<circle cx="161.94" cy="264.43" r="1.2" fill="#231f20"/>
<circle cx="162.36" cy="268.36" r="1.2" fill="#231f20"/>
<circle cx="164.14" cy="276.67" r="1.2" fill="#231f20"/>
<circle cx="161.90" cy="269.40" r="1.2" fill="#231f20"/>
<circle cx="163.61" cy="275.59" r="1.2" fill="#231f20"/>
<circle cx="158.72" cy="262.93" r="1.2" fill="#231f20"/>
<circle cx="160.73" cy="272.26" r="1.2" fill="#231f20"/>
<circle cx="158.86" cy="264.56" r="1.2" fill="#231f20"/>
<circle cx="156.63" cy="274.47" r="1.2" fill="#231f20"/>
<circle cx="161.87" cy="267.80" r="1.2" fill="#231f20"/>
<circle cx="158.61" cy="271.20" r="1.2" fill="#231f20"/>
<circle cx="158.44" cy="271.15" r="1.2" fill="#231f20"/>
<circle cx="155.77" cy="270.82" r="1.2" fill="#231f20"/>
<circle cx="164.26" cy="269.57" r="1.2" fill="#231f20"/>
<circle cx="162.53" cy="270.91" r="1.2" fill="#231f20"/>
<circle cx="162.62" cy="274.77" r="1.2" fill="#231f20"/>
<circle cx="160.94" cy="265.66" r="1.2" fill="#231f20"/>
<circle cx="159.86" cy="269.31" r="1.2" fill="#231f20"/>
<circle cx="162.78" cy="267.39" r="1.2" fill="#231f20"/>
<circle cx="154.38" cy="274.94" r="1.2" fill="#231f20"/>
<circle cx="162.30" cy="265.78" r="1.2" fill="#231f20"/>
<circle cx="159.50" cy="269.31" r="1.2" fill="#231f20"/>
<circle cx="158.14" cy="266.22" r="1.2" fill="#231f20"/>
<circle cx="156.31" cy="273.13" r="1.2" fill="#231f20"/>
<circle cx="158.56" cy="268.26" r="1.2" fill="#231f20"/>
<circle cx="162.44" cy="273.67" r="1.2" fill="#231f20"/>
<circle cx="159.46" cy="262.64" r="1.2" fill="#231f20"/>
<circle cx="159.47" cy="266.43" r="1.2" fill="#231f20"/>
<circle cx="160.34" cy="264.16" r="1.2" fill="#231f20"/>
<circle cx="156.54" cy="273.14" r="1.2" fill="#231f20"/>
<circle cx="159.68" cy="276.87" r="1.2" fill="#231f20"/>
<circle cx="156.51" cy="271.37" r="1.2" fill="#231f20"/>
<circle cx="158.05" cy="271.71" r="1.2" fill="#231f20"/>
<circle cx="158.16" cy="265.38" r="1.2" fill="#231f20"/>
<circle cx="159.96" cy="262.06" r="1.2" fill="#231f20"/>
<circle cx="159.76" cy="268.06" r="1.2" fill="#231f20"/>
<circle cx="161.39" cy="264.46" r="1.2" fill="#231f20"/>
<circle cx="159.85" cy="268.70" r="1.2" fill="#231f20"/>
<circle cx="162.11" cy="266.20" r="1.2" fill="#231f20"/>
<circle cx="162.43" cy="271.10" r="1.2" fill="#231f20"/>
<circle cx="159.92" cy="262.53" r="1.2" fill="#231f20"/>
<circle cx="156.61" cy="273.71" r="1.2" fill="#231f20"/>
<circle cx="161.04" cy="266.24" r="1.2" fill="#231f20"/>
<circle cx="160.91" cy="262.56" r="1.2" fill="#231f20"/>
<circle cx="156.09" cy="273.52" r="1.2" fill="#231f20"/>
<circle cx="156.13" cy="273.27" r="1.2" fill="#231f20"/>
<circle cx="162.20" cy="266.44" r="1.2" fill="#231f20"/>
<circle cx="159.17" cy="263.46" r="1.2" fill="#231f20"/>
<circle cx="159.27" cy="263.99" r="1.2" fill="#231f20"/>
<circle cx="162.31" cy="270.75" r="1.2" fill="#231f20"/>
<circle cx="153.97" cy="275.91" r="1.2" fill="#231f20"/>
<circle cx="159.10" cy="264.47" r="1.2" fill="#231f20"/>
<circle cx="160.88" cy="271.77" r="1.2" fill="#231f20"/>
<circle cx="156.77" cy="266.89" r="1.2" fill="#231f20"/>
<circle cx="159.28" cy="272.10" r="1.2" fill="#231f20"/>
<circle cx="157.33" cy="269.79" r="1.2" fill="#231f20"/>
<circle cx="163.56" cy="268.27" r="1.2" fill="#231f20"/>
<circle cx="160.47" cy="271.24" r="1.2" fill="#231f20"/>
<circle cx="156.77" cy="275.40" r="1.2" fill="#231f20"/>
<circle cx="157.41" cy="267.04" r="1.2" fill="#231f20"/>
<circle cx="161.46" cy="263.65" r="1.2" fill="#231f20"/>
<circle cx="166.46" cy="275.74" r="1.2" fill="#231f20"/>
<circle cx="162.93" cy="271.50" r="1.2" fill="#231f20"/>
<circle cx="158.90" cy="265.64" r="1.2" fill="#231f20"/>
<circle cx="161.01" cy="266.88" r="1.2" fill="#231f20"/>
<circle cx="158.89" cy="264.89" r="1.2" fill="#231f20"/>
<circle cx="162.51" cy="265.69" r="1.2" fill="#231f20"/>
<circle cx="160.24" cy="266.93" r="1.2" fill="#231f20"/>
<circle cx="159.91" cy="275.49" r="1.2" fill="#231f20"/>
<circle cx="162.41" cy="271.84" r="1.2" fill="#231f20"/>
<line x1="160.00" y1="257.18" x2="160.00" y2="269.31" stroke="#231f20" stroke-width="0.8"/>
<line x1="157.00" y1="257.18" x2="163.00" y2="257.18" stroke="#231f20" stroke-width="0.8"/>
<line x1="157.00" y1="269.31" x2="163.00" y2="269.31" stroke="#231f20" stroke-width="0.8"/>
<text x="148.20" y="217.40" font-size="7.2" text-anchor="middle" fill="#231f20" stroke="#231f20" stroke-width="0.12"><tspan font-style="italic">p</tspan>=0.0001</text>
<line x1="133.20" y1="219.50" x2="163.20" y2="219.50" stroke="#231f20" stroke-width="0.9"/>
<text x="140.60" y="297.00" font-size="9.1" text-anchor="end" fill="#231f20" stroke="#231f20" stroke-width="0.12" transform="rotate(-45 140.6 297.0)">Normal</text>
<text x="164.40" y="297.00" font-size="9.1" text-anchor="end" fill="#231f20" stroke="#231f20" stroke-width="0.12" transform="rotate(-45 164.4 297.0)">NSCLC</text>
<text x="237.00" y="195.60" font-size="9.1" text-anchor="middle" fill="#231f20" stroke="#231f20" stroke-width="0.12">Curtis Breast</text>
<line x1="212.80" y1="203.40" x2="212.80" y2="288.40" stroke="#231f20" stroke-width="0.8"/>
<line x1="209.80" y1="288.40" x2="212.80" y2="288.40" stroke="#231f20" stroke-width="0.8"/>
<text x="208.30" y="291.50" font-size="9.1" text-anchor="end" fill="#231f20" stroke="#231f20" stroke-width="0.12">-2</text>
<line x1="209.80" y1="271.40" x2="212.80" y2="271.40" stroke="#231f20" stroke-width="0.8"/>
<text x="208.30" y="274.50" font-size="9.1" text-anchor="end" fill="#231f20" stroke="#231f20" stroke-width="0.12">0</text>
<line x1="209.80" y1="254.40" x2="212.80" y2="254.40" stroke="#231f20" stroke-width="0.8"/>
<text x="208.30" y="257.50" font-size="9.1" text-anchor="end" fill="#231f20" stroke="#231f20" stroke-width="0.12">2</text>
<line x1="209.80" y1="237.40" x2="212.80" y2="237.40" stroke="#231f20" stroke-width="0.8"/>
<text x="208.30" y="240.50" font-size="9.1" text-anchor="end" fill="#231f20" stroke="#231f20" stroke-width="0.12">4</text>
<line x1="209.80" y1="220.40" x2="212.80" y2="220.40" stroke="#231f20" stroke-width="0.8"/>
<text x="208.30" y="223.50" font-size="9.1" text-anchor="end" fill="#231f20" stroke="#231f20" stroke-width="0.12">6</text>
<line x1="209.80" y1="203.40" x2="212.80" y2="203.40" stroke="#231f20" stroke-width="0.8"/>
<text x="208.30" y="206.50" font-size="9.1" text-anchor="end" fill="#231f20" stroke="#231f20" stroke-width="0.12">8</text>
<line x1="212.80" y1="271.40" x2="269.00" y2="271.40" stroke="#231f20" stroke-width="0.8"/>
<line x1="212.80" y1="288.40" x2="269.00" y2="288.40" stroke="#231f20" stroke-width="0.8"/>
<line x1="228.90" y1="288.40" x2="228.90" y2="291.40" stroke="#231f20" stroke-width="0.8"/>
<line x1="253.00" y1="288.40" x2="253.00" y2="291.40" stroke="#231f20" stroke-width="0.8"/>
<text x="197.00" y="247.00" font-size="9.1" text-anchor="middle" fill="#231f20" stroke="#231f20" stroke-width="0.12" transform="rotate(-90 197.0 247)">DKK1 (log2)</text>
<rect x="245.55" y="262.05" width="14.90" height="9.35" fill="#ff2a00" stroke="#231f20" stroke-width="0.7"/>
<path d="M221,271.2 L223,269.6 L226,268.3 L228,266.2 L228.5,262.5 L229.4,262.5 L229.9,266.2 L232,268.3 L235,269.6 L237,271.2 L235,273 L230,273.8 L229,275.2 L228,273.8 L223,273 Z" fill="#231f20"/>
<circle cx="229" cy="256.2" r="0.8" fill="#231f20"/>
<circle cx="229" cy="258.2" r="0.8" fill="#231f20"/>
<circle cx="229" cy="260.2" r="0.8" fill="#231f20"/>
<circle cx="229" cy="233" r="1.1" fill="#231f20"/>
<path d="M253,236 L252.4,250 L251.8,256 L251,260 L250,263 L248.5,266.5 L246.5,269.5 L245.5,271 L247.5,273 L253,274.4 L258.5,273 L260.5,271 L259.5,269.5 L257.5,266.5 L256,263 L255,260 L254.2,256 L253.6,250 Z" fill="#231f20"/>
<circle cx="253" cy="221" r="0.8" fill="#231f20"/>
<circle cx="253" cy="223.2" r="0.8" fill="#231f20"/>
<circle cx="253" cy="225.4" r="0.8" fill="#231f20"/>
<circle cx="253" cy="227.6" r="0.8" fill="#231f20"/>
<circle cx="253" cy="229.8" r="0.8" fill="#231f20"/>
<circle cx="253" cy="232" r="0.8" fill="#231f20"/>
<circle cx="253" cy="234" r="0.8" fill="#231f20"/>
<text x="240.70" y="211.30" font-size="7.2" text-anchor="middle" fill="#231f20" stroke="#231f20" stroke-width="0.12"><tspan font-style="italic">p</tspan>&lt;0.0001</text>
<line x1="226.50" y1="214.50" x2="255.90" y2="214.50" stroke="#231f20" stroke-width="0.9"/>
<text x="233.30" y="297.00" font-size="9.1" text-anchor="end" fill="#231f20" stroke="#231f20" stroke-width="0.12" transform="rotate(-45 233.3 297.0)">Normal</text>
<text x="257.40" y="297.00" font-size="9.1" text-anchor="end" fill="#231f20" stroke="#231f20" stroke-width="0.12" transform="rotate(-45 257.4 297.0)">TNBC</text>
<text x="1.00" y="361.00" font-size="14.5" text-anchor="start" font-weight="bold" fill="#231f20">f</text>
<text x="135.20" y="363.20" font-size="9.0" text-anchor="middle" fill="#231f20" stroke="#231f20" stroke-width="0.12">HLA-A2 positive</text>
<line x1="62.20" y1="366.50" x2="208.20" y2="366.50" stroke="#231f20" stroke-width="1.0"/>
<filter id="tx1" x="0" y="0" width="1" height="1" color-interpolation-filters="sRGB"><feTurbulence type="fractalNoise" baseFrequency="0.16" numOctaves="4" seed="7" result="t"/><feColorMatrix in="t" type="matrix" values="1 0 0 0 0  1 0 0 0 0  1 0 0 0 0  0 0 0 0 1" result="g"/><feComponentTransfer in="g" result="g2"><feFuncR type="linear" slope="0.7" intercept="0.15000000000000002"/><feFuncG type="linear" slope="0.7" intercept="0.15000000000000002"/><feFuncB type="linear" slope="0.7" intercept="0.15000000000000002"/></feComponentTransfer><feBlend in="g2" in2="SourceGraphic" mode="soft-light" result="b"/><feComposite in="b" in2="SourceGraphic" operator="in"/></filter>
<g filter="url(#tx1)">
<rect x="54.20" y="370.20" width="32.46" height="24.20" fill="#d6d8c6"/>
<rect x="86.66" y="370.20" width="32.46" height="24.20" fill="#d4d4c0"/>
<rect x="119.12" y="370.20" width="32.46" height="24.20" fill="#c8ccd8"/>
<rect x="151.58" y="370.20" width="32.46" height="24.20" fill="#d0d4dc"/>
<rect x="184.04" y="370.20" width="32.46" height="24.20" fill="#d8dce4"/>
</g>
<line x1="54.20" y1="370.20" x2="216.50" y2="370.20" stroke="#505050" stroke-width="0.9"/>
<line x1="54.20" y1="394.40" x2="216.50" y2="394.40" stroke="#505050" stroke-width="0.9"/>
<line x1="54.20" y1="370.20" x2="54.20" y2="394.40" stroke="#505050" stroke-width="0.9"/>
<line x1="86.66" y1="370.20" x2="86.66" y2="394.40" stroke="#505050" stroke-width="0.9"/>
<line x1="119.12" y1="370.20" x2="119.12" y2="394.40" stroke="#505050" stroke-width="0.9"/>
<line x1="151.58" y1="370.20" x2="151.58" y2="394.40" stroke="#505050" stroke-width="0.9"/>
<line x1="184.04" y1="370.20" x2="184.04" y2="394.40" stroke="#505050" stroke-width="0.9"/>
<line x1="216.50" y1="370.20" x2="216.50" y2="394.40" stroke="#505050" stroke-width="0.9"/>
<text x="51.20" y="385.00" font-size="9.0" text-anchor="end" fill="#231f20" stroke="#231f20" stroke-width="0.12">DKK1-A2</text>
<text x="220.80" y="379.90" font-size="9.1" text-anchor="start" fill="#231f20" stroke="#231f20" stroke-width="0.12">Normal</text>
<text x="220.80" y="390.80" font-size="9.1" text-anchor="start" fill="#231f20" stroke="#231f20" stroke-width="0.12">pancreas</text>
<filter id="tx2" x="0" y="0" width="1" height="1" color-interpolation-filters="sRGB"><feTurbulence type="fractalNoise" baseFrequency="0.16" numOctaves="4" seed="14" result="t"/><feColorMatrix in="t" type="matrix" values="1 0 0 0 0  1 0 0 0 0  1 0 0 0 0  0 0 0 0 1" result="g"/><feComponentTransfer in="g" result="g2"><feFuncR type="linear" slope="0.7" intercept="0.15000000000000002"/><feFuncG type="linear" slope="0.7" intercept="0.15000000000000002"/><feFuncB type="linear" slope="0.7" intercept="0.15000000000000002"/></feComponentTransfer><feBlend in="g2" in2="SourceGraphic" mode="soft-light" result="b"/><feComposite in="b" in2="SourceGraphic" operator="in"/></filter>
<g filter="url(#tx2)">
<rect x="54.20" y="402.30" width="32.46" height="24.20" fill="#c8ccc8"/>
<rect x="86.66" y="402.30" width="32.46" height="24.20" fill="#d0d0c4"/>
<rect x="119.12" y="402.30" width="32.46" height="24.20" fill="#c8ccd4"/>
<rect x="151.58" y="402.30" width="32.46" height="24.20" fill="#ccccc8"/>
<rect x="184.04" y="402.30" width="32.46" height="24.20" fill="#c8ccd4"/>
</g>
<line x1="54.20" y1="402.30" x2="216.50" y2="402.30" stroke="#505050" stroke-width="0.9"/>
<line x1="54.20" y1="426.50" x2="216.50" y2="426.50" stroke="#505050" stroke-width="0.9"/>
<line x1="54.20" y1="402.30" x2="54.20" y2="426.50" stroke="#505050" stroke-width="0.9"/>
<line x1="86.66" y1="402.30" x2="86.66" y2="426.50" stroke="#505050" stroke-width="0.9"/>
<line x1="119.12" y1="402.30" x2="119.12" y2="426.50" stroke="#505050" stroke-width="0.9"/>
<line x1="151.58" y1="402.30" x2="151.58" y2="426.50" stroke="#505050" stroke-width="0.9"/>
<line x1="184.04" y1="402.30" x2="184.04" y2="426.50" stroke="#505050" stroke-width="0.9"/>
<line x1="216.50" y1="402.30" x2="216.50" y2="426.50" stroke="#505050" stroke-width="0.9"/>
<text x="51.20" y="417.10" font-size="9.0" text-anchor="end" fill="#231f20" stroke="#231f20" stroke-width="0.12">DKK1-A2</text>
<text x="222.60" y="412.00" font-size="9.1" text-anchor="start" fill="#231f20" stroke="#231f20" stroke-width="0.12">Normal</text>
<text x="222.60" y="422.90" font-size="9.1" text-anchor="start" fill="#231f20" stroke="#231f20" stroke-width="0.12">lung</text>
<filter id="tx3" x="0" y="0" width="1" height="1" color-interpolation-filters="sRGB"><feTurbulence type="fractalNoise" baseFrequency="0.16" numOctaves="4" seed="21" result="t"/><feColorMatrix in="t" type="matrix" values="1 0 0 0 0  1 0 0 0 0  1 0 0 0 0  0 0 0 0 1" result="g"/><feComponentTransfer in="g" result="g2"><feFuncR type="linear" slope="0.7" intercept="0.15000000000000002"/><feFuncG type="linear" slope="0.7" intercept="0.15000000000000002"/><feFuncB type="linear" slope="0.7" intercept="0.15000000000000002"/></feComponentTransfer><feBlend in="g2" in2="SourceGraphic" mode="soft-light" result="b"/><feComposite in="b" in2="SourceGraphic" operator="in"/></filter>
<g filter="url(#tx3)">
<rect x="54.20" y="434.30" width="32.46" height="24.20" fill="#e0e6ee"/>
<rect x="86.66" y="434.30" width="32.46" height="24.20" fill="#e6ecf2"/>
<rect x="119.12" y="434.30" width="32.46" height="24.20" fill="#eceef0"/>
<rect x="151.58" y="434.30" width="32.46" height="24.20" fill="#e4e8ec"/>
<rect x="184.04" y="434.30" width="32.46" height="24.20" fill="#e4e8ec"/>
<polygon points="91,434.3 101.6,434.3 108.7,458.5 97.5,458.5" fill="#a8b3dc" opacity="0.85"/>
<polygon points="103.4,434.3 111.6,434.3 118.7,458.5 112,458.5" fill="#adb8de" opacity="0.8"/>
</g>
<line x1="54.20" y1="434.30" x2="216.50" y2="434.30" stroke="#505050" stroke-width="0.9"/>
<line x1="54.20" y1="458.50" x2="216.50" y2="458.50" stroke="#505050" stroke-width="0.9"/>
<line x1="54.20" y1="434.30" x2="54.20" y2="458.50" stroke="#505050" stroke-width="0.9"/>
<line x1="86.66" y1="434.30" x2="86.66" y2="458.50" stroke="#505050" stroke-width="0.9"/>
<line x1="119.12" y1="434.30" x2="119.12" y2="458.50" stroke="#505050" stroke-width="0.9"/>
<line x1="151.58" y1="434.30" x2="151.58" y2="458.50" stroke="#505050" stroke-width="0.9"/>
<line x1="184.04" y1="434.30" x2="184.04" y2="458.50" stroke="#505050" stroke-width="0.9"/>
<line x1="216.50" y1="434.30" x2="216.50" y2="458.50" stroke="#505050" stroke-width="0.9"/>
<text x="51.20" y="449.10" font-size="9.0" text-anchor="end" fill="#231f20" stroke="#231f20" stroke-width="0.12">DKK1-A2</text>
<text x="222.60" y="444.00" font-size="9.1" text-anchor="start" fill="#231f20" stroke="#231f20" stroke-width="0.12">Normal</text>
<text x="222.60" y="454.90" font-size="9.1" text-anchor="start" fill="#231f20" stroke="#231f20" stroke-width="0.12">breast</text>
<text x="214.10" y="453.10" font-size="5.8" text-anchor="end" fill="#231f20" stroke="#231f20" stroke-width="0.15">100 μm</text>
<line x1="203.90" y1="455.50" x2="214.30" y2="455.50" stroke="#231f20" stroke-width="1.0"/>
<text x="294.00" y="168.30" font-size="14.5" text-anchor="start" font-weight="bold" fill="#231f20">g</text>
<filter id="tx4" x="0" y="0" width="1" height="1" color-interpolation-filters="sRGB"><feTurbulence type="fractalNoise" baseFrequency="0.16" numOctaves="4" seed="28" result="t"/><feColorMatrix in="t" type="matrix" values="1 0 0 0 0  1 0 0 0 0  1 0 0 0 0  0 0 0 0 1" result="g"/><feComponentTransfer in="g" result="g2"><feFuncR type="linear" slope="0.7" intercept="0.15000000000000002"/><feFuncG type="linear" slope="0.7" intercept="0.15000000000000002"/><feFuncB type="linear" slope="0.7" intercept="0.15000000000000002"/></feComponentTransfer><feBlend in="g2" in2="SourceGraphic" mode="soft-light" result="b"/><feComposite in="b" in2="SourceGraphic" operator="in"/></filter>
<g filter="url(#tx4)">
<rect x="340.00" y="175.30" width="32.24" height="24.30" fill="#bd9585"/>
<rect x="372.24" y="175.30" width="32.24" height="24.30" fill="#a27a6e"/>
<rect x="404.48" y="175.30" width="32.24" height="24.30" fill="#bea484"/>
<rect x="436.72" y="175.30" width="32.24" height="24.30" fill="#b49c90"/>
<rect x="468.96" y="175.30" width="32.24" height="24.30" fill="#dcc2a6"/>
<rect x="501.20" y="175.30" width="32.24" height="24.30" fill="#d2bea8"/>
<rect x="533.44" y="175.30" width="32.24" height="24.30" fill="#a2765a"/>
<rect x="565.68" y="175.30" width="32.24" height="24.30" fill="#d6b6a2"/>
<rect x="597.92" y="175.30" width="32.24" height="24.30" fill="#ccbc9e"/>
<rect x="630.16" y="175.30" width="32.24" height="24.30" fill="#b8a48c"/>
<rect x="340.00" y="199.60" width="32.24" height="24.30" fill="#d6dcca"/>
<rect x="372.24" y="199.60" width="32.24" height="24.30" fill="#c8ccc0"/>
<rect x="404.48" y="199.60" width="32.24" height="24.30" fill="#c0c8d0"/>
<rect x="436.72" y="199.60" width="32.24" height="24.30" fill="#c0c4cc"/>
<rect x="468.96" y="199.60" width="32.24" height="24.30" fill="#ccd0c8"/>
<rect x="501.20" y="199.60" width="32.24" height="24.30" fill="#c8c8c0"/>
<rect x="533.44" y="199.60" width="32.24" height="24.30" fill="#a8806a"/>
<rect x="565.68" y="199.60" width="32.24" height="24.30" fill="#d8c4ae"/>
<rect x="597.92" y="199.60" width="32.24" height="24.30" fill="#c8c2b4"/>
<rect x="630.16" y="199.60" width="32.24" height="24.30" fill="#dcd8c8"/>
<rect x="340.00" y="223.90" width="32.24" height="24.30" fill="#c8d0d8"/>
<rect x="372.24" y="223.90" width="32.24" height="24.30" fill="#d0d8d0"/>
<rect x="404.48" y="223.90" width="32.24" height="24.30" fill="#d0d4c8"/>
<rect x="436.72" y="223.90" width="32.24" height="24.30" fill="#d8dcc8"/>
<rect x="468.96" y="223.90" width="32.24" height="24.30" fill="#c4ccdc"/>
<rect x="501.20" y="223.90" width="32.24" height="24.30" fill="#dce4dc"/>
<rect x="533.44" y="223.90" width="32.24" height="24.30" fill="#a2705a"/>
<rect x="565.68" y="223.90" width="32.24" height="24.30" fill="#d2baa6"/>
<rect x="597.92" y="223.90" width="32.24" height="24.30" fill="#c4ae98"/>
<rect x="630.16" y="223.90" width="32.24" height="24.30" fill="#c4b4a2"/>
<path d="M536,181 Q539,178 541,177 M546,183 Q550,180 553,181 M556,187 Q559,184 563,185 L565,188" fill="none" stroke="#d8c898" stroke-width="0.9" opacity="0.8"/>
</g>
<line x1="340.00" y1="175.30" x2="662.40" y2="175.30" stroke="#505050" stroke-width="0.9"/>
<line x1="340.00" y1="199.60" x2="662.40" y2="199.60" stroke="#505050" stroke-width="0.9"/>
<line x1="340.00" y1="223.90" x2="662.40" y2="223.90" stroke="#505050" stroke-width="0.9"/>
<line x1="340.00" y1="248.20" x2="662.40" y2="248.20" stroke="#505050" stroke-width="0.9"/>
<line x1="340.00" y1="175.30" x2="340.00" y2="248.20" stroke="#505050" stroke-width="0.9"/>
<line x1="372.24" y1="175.30" x2="372.24" y2="248.20" stroke="#505050" stroke-width="0.9"/>
<line x1="404.48" y1="175.30" x2="404.48" y2="248.20" stroke="#505050" stroke-width="0.9"/>
<line x1="436.72" y1="175.30" x2="436.72" y2="248.20" stroke="#505050" stroke-width="0.9"/>
<line x1="468.96" y1="175.30" x2="468.96" y2="248.20" stroke="#505050" stroke-width="0.9"/>
<line x1="501.20" y1="175.30" x2="501.20" y2="248.20" stroke="#505050" stroke-width="0.9"/>
<line x1="533.44" y1="175.30" x2="533.44" y2="248.20" stroke="#505050" stroke-width="0.9"/>
<line x1="565.68" y1="175.30" x2="565.68" y2="248.20" stroke="#505050" stroke-width="0.9"/>
<line x1="597.92" y1="175.30" x2="597.92" y2="248.20" stroke="#505050" stroke-width="0.9"/>
<line x1="630.16" y1="175.30" x2="630.16" y2="248.20" stroke="#505050" stroke-width="0.9"/>
<line x1="662.40" y1="175.30" x2="662.40" y2="248.20" stroke="#505050" stroke-width="0.9"/>
<text x="437.00" y="168.30" font-size="9.0" text-anchor="middle" fill="#231f20" stroke="#231f20" stroke-width="0.12">HLA-A2 negative</text>
<line x1="342.00" y1="171.50" x2="530.00" y2="171.50" stroke="#231f20" stroke-width="1.0"/>
<text x="597.80" y="168.30" font-size="9.0" text-anchor="middle" fill="#231f20" stroke="#231f20" stroke-width="0.12">HLA-A2 positive</text>
<line x1="536.00" y1="171.50" x2="658.60" y2="171.50" stroke="#231f20" stroke-width="1.0"/>
<text x="336.00" y="188.95" font-size="9.0" text-anchor="end" fill="#231f20" stroke="#231f20" stroke-width="0.12">DKK1</text>
<text x="336.00" y="214.95" font-size="9.0" text-anchor="end" fill="#231f20" stroke="#231f20" stroke-width="0.12">HLA-A2</text>
<text x="336.00" y="239.25" font-size="9.0" text-anchor="end" fill="#231f20" stroke="#231f20" stroke-width="0.12">DKK1-A2</text>
<text x="667.40" y="212.00" font-size="9.1" text-anchor="middle" fill="#231f20" stroke="#231f20" stroke-width="0.12" transform="rotate(90 667.4 212.0)">Pancreatic cancer</text>
<text x="660.00" y="242.80" font-size="5.8" text-anchor="end" fill="#231f20" stroke="#231f20" stroke-width="0.15">100 μm</text>
<line x1="649.80" y1="245.50" x2="660.20" y2="245.50" stroke="#231f20" stroke-width="1.0"/>
<text x="294.00" y="278.50" font-size="14.5" text-anchor="start" font-weight="bold" fill="#231f20">h</text>
<filter id="tx5" x="0" y="0" width="1" height="1" color-interpolation-filters="sRGB"><feTurbulence type="fractalNoise" baseFrequency="0.16" numOctaves="4" seed="35" result="t"/><feColorMatrix in="t" type="matrix" values="1 0 0 0 0  1 0 0 0 0  1 0 0 0 0  0 0 0 0 1" result="g"/><feComponentTransfer in="g" result="g2"><feFuncR type="linear" slope="0.7" intercept="0.15000000000000002"/><feFuncG type="linear" slope="0.7" intercept="0.15000000000000002"/><feFuncB type="linear" slope="0.7" intercept="0.15000000000000002"/></feComponentTransfer><feBlend in="g2" in2="SourceGraphic" mode="soft-light" result="b"/><feComposite in="b" in2="SourceGraphic" operator="in"/></filter>
<g filter="url(#tx5)">
<rect x="340.00" y="280.90" width="32.24" height="24.10" fill="#a89a80"/>
<rect x="372.24" y="280.90" width="32.24" height="24.10" fill="#a08c7c"/>
<rect x="404.48" y="280.90" width="32.24" height="24.10" fill="#a28264"/>
<rect x="436.72" y="280.90" width="32.24" height="24.10" fill="#a89a82"/>
<rect x="468.96" y="280.90" width="32.24" height="24.10" fill="#d0c2ae"/>
<rect x="501.20" y="280.90" width="32.24" height="24.10" fill="#9a785c"/>
<rect x="533.44" y="280.90" width="32.24" height="24.10" fill="#a08c7a"/>
<rect x="565.68" y="280.90" width="32.24" height="24.10" fill="#bcae94"/>
<rect x="597.92" y="280.90" width="32.24" height="24.10" fill="#ac9a80"/>
<rect x="630.16" y="280.90" width="32.24" height="24.10" fill="#b09c80"/>
<rect x="340.00" y="305.00" width="32.24" height="24.10" fill="#d4d8d4"/>
<rect x="372.24" y="305.00" width="32.24" height="24.10" fill="#d4d8dc"/>
<rect x="404.48" y="305.00" width="32.24" height="24.10" fill="#dcdcd4"/>
<rect x="436.72" y="305.00" width="32.24" height="24.10" fill="#d0d4d8"/>
<rect x="468.96" y="305.00" width="32.24" height="24.10" fill="#d8c8b6"/>
<rect x="501.20" y="305.00" width="32.24" height="24.10" fill="#d4c8aa"/>
<rect x="533.44" y="305.00" width="32.24" height="24.10" fill="#d8d4c0"/>
<rect x="565.68" y="305.00" width="32.24" height="24.10" fill="#d4c8b8"/>
<rect x="597.92" y="305.00" width="32.24" height="24.10" fill="#d4c4b4"/>
<rect x="630.16" y="305.00" width="32.24" height="24.10" fill="#dcdcc8"/>
<rect x="340.00" y="329.10" width="32.24" height="24.10" fill="#c8c8c0"/>
<rect x="372.24" y="329.10" width="32.24" height="24.10" fill="#d4d8dc"/>
<rect x="404.48" y="329.10" width="32.24" height="24.10" fill="#d0d4cc"/>
<rect x="436.72" y="329.10" width="32.24" height="24.10" fill="#d4d8dc"/>
<rect x="468.96" y="329.10" width="32.24" height="24.10" fill="#c8b09c"/>
<rect x="501.20" y="329.10" width="32.24" height="24.10" fill="#b4a890"/>
<rect x="533.44" y="329.10" width="32.24" height="24.10" fill="#aa9880"/>
<rect x="565.68" y="329.10" width="32.24" height="24.10" fill="#a48e78"/>
<rect x="597.92" y="329.10" width="32.24" height="24.10" fill="#b0a084"/>
<rect x="630.16" y="329.10" width="32.24" height="24.10" fill="#c0b8a8"/>
<path d="M489,282 L494,282 L493,292 L494.5,300 L490.5,304.5 L488.5,296 Z" fill="#eef0e8" opacity="0.75"/>
<path d="M512.5,289 Q516,293 517,297 Q518.5,301 519,305 M516.5,296 Q521,292 526,291.5 Q530,291 533,292" fill="none" stroke="#d4d8c0" stroke-width="1.8" opacity="0.9"/>
</g>
<line x1="340.00" y1="280.90" x2="662.40" y2="280.90" stroke="#505050" stroke-width="0.9"/>
<line x1="340.00" y1="305.00" x2="662.40" y2="305.00" stroke="#505050" stroke-width="0.9"/>
<line x1="340.00" y1="329.10" x2="662.40" y2="329.10" stroke="#505050" stroke-width="0.9"/>
<line x1="340.00" y1="353.20" x2="662.40" y2="353.20" stroke="#505050" stroke-width="0.9"/>
<line x1="340.00" y1="280.90" x2="340.00" y2="353.20" stroke="#505050" stroke-width="0.9"/>
<line x1="372.24" y1="280.90" x2="372.24" y2="353.20" stroke="#505050" stroke-width="0.9"/>
<line x1="404.48" y1="280.90" x2="404.48" y2="353.20" stroke="#505050" stroke-width="0.9"/>
<line x1="436.72" y1="280.90" x2="436.72" y2="353.20" stroke="#505050" stroke-width="0.9"/>
<line x1="468.96" y1="280.90" x2="468.96" y2="353.20" stroke="#505050" stroke-width="0.9"/>
<line x1="501.20" y1="280.90" x2="501.20" y2="353.20" stroke="#505050" stroke-width="0.9"/>
<line x1="533.44" y1="280.90" x2="533.44" y2="353.20" stroke="#505050" stroke-width="0.9"/>
<line x1="565.68" y1="280.90" x2="565.68" y2="353.20" stroke="#505050" stroke-width="0.9"/>
<line x1="597.92" y1="280.90" x2="597.92" y2="353.20" stroke="#505050" stroke-width="0.9"/>
<line x1="630.16" y1="280.90" x2="630.16" y2="353.20" stroke="#505050" stroke-width="0.9"/>
<line x1="662.40" y1="280.90" x2="662.40" y2="353.20" stroke="#505050" stroke-width="0.9"/>
<text x="404.90" y="273.80" font-size="9.0" text-anchor="middle" fill="#231f20" stroke="#231f20" stroke-width="0.12">HLA-A2 negative</text>
<line x1="342.00" y1="276.90" x2="463.00" y2="276.90" stroke="#6a6a6a" stroke-width="1.2"/>
<text x="565.60" y="273.80" font-size="9.0" text-anchor="middle" fill="#231f20" stroke="#231f20" stroke-width="0.12">HLA-A2 positive</text>
<line x1="473.00" y1="276.90" x2="660.00" y2="276.90" stroke="#6a6a6a" stroke-width="1.2"/>
<text x="336.00" y="296.15" font-size="9.0" text-anchor="end" fill="#231f20" stroke="#231f20" stroke-width="0.12">DKK1</text>
<text x="336.00" y="320.25" font-size="9.0" text-anchor="end" fill="#231f20" stroke="#231f20" stroke-width="0.12">HLA-A2</text>
<text x="336.00" y="344.35" font-size="9.0" text-anchor="end" fill="#231f20" stroke="#231f20" stroke-width="0.12">DKK1-A2</text>
<text x="667.70" y="317.30" font-size="9.1" text-anchor="middle" fill="#231f20" stroke="#231f20" stroke-width="0.12" transform="rotate(90 667.7 317.3)">lung cancer</text>
<text x="678.10" y="317.30" font-size="9.1" text-anchor="middle" fill="#231f20" stroke="#231f20" stroke-width="0.12" transform="rotate(90 678.1 317.3)">Non-small cell</text>
<text x="660.00" y="347.80" font-size="5.8" text-anchor="end" fill="#231f20" stroke="#231f20" stroke-width="0.15">100 μm</text>
<line x1="649.80" y1="350.50" x2="660.20" y2="350.50" stroke="#231f20" stroke-width="1.0"/>
<text x="294.00" y="383.50" font-size="14.5" text-anchor="start" font-weight="bold" fill="#231f20">i</text>
<filter id="tx6" x="0" y="0" width="1" height="1" color-interpolation-filters="sRGB"><feTurbulence type="fractalNoise" baseFrequency="0.16" numOctaves="4" seed="42" result="t"/><feColorMatrix in="t" type="matrix" values="1 0 0 0 0  1 0 0 0 0  1 0 0 0 0  0 0 0 0 1" result="g"/><feComponentTransfer in="g" result="g2"><feFuncR type="linear" slope="0.7" intercept="0.15000000000000002"/><feFuncG type="linear" slope="0.7" intercept="0.15000000000000002"/><feFuncB type="linear" slope="0.7" intercept="0.15000000000000002"/></feComponentTransfer><feBlend in="g2" in2="SourceGraphic" mode="soft-light" result="b"/><feComposite in="b" in2="SourceGraphic" operator="in"/></filter>
<g filter="url(#tx6)">
<rect x="340.00" y="386.10" width="32.24" height="24.05" fill="#d6cabc"/>
<rect x="372.24" y="386.10" width="32.24" height="24.05" fill="#caaca4"/>
<rect x="404.48" y="386.10" width="32.24" height="24.05" fill="#c8aa94"/>
<rect x="436.72" y="386.10" width="32.24" height="24.05" fill="#d2c0b4"/>
<rect x="468.96" y="386.10" width="32.24" height="24.05" fill="#d8d4cc"/>
<rect x="501.20" y="386.10" width="32.24" height="24.05" fill="#d4c4b2"/>
<rect x="533.44" y="386.10" width="32.24" height="24.05" fill="#dedcd0"/>
<rect x="565.68" y="386.10" width="32.24" height="24.05" fill="#d0c4b0"/>
<rect x="597.92" y="386.10" width="32.24" height="24.05" fill="#c8ae98"/>
<rect x="630.16" y="386.10" width="32.24" height="24.05" fill="#d6ccbc"/>
<rect x="340.00" y="410.15" width="32.24" height="24.05" fill="#c8ccda"/>
<rect x="372.24" y="410.15" width="32.24" height="24.05" fill="#e0e6e4"/>
<rect x="404.48" y="410.15" width="32.24" height="24.05" fill="#d4dce0"/>
<rect x="436.72" y="410.15" width="32.24" height="24.05" fill="#dce4e4"/>
<rect x="468.96" y="410.15" width="32.24" height="24.05" fill="#c4b4ac"/>
<rect x="501.20" y="410.15" width="32.24" height="24.05" fill="#d8ccc4"/>
<rect x="533.44" y="410.15" width="32.24" height="24.05" fill="#ccc4c0"/>
<rect x="565.68" y="410.15" width="32.24" height="24.05" fill="#d8ccc4"/>
<rect x="597.92" y="410.15" width="32.24" height="24.05" fill="#bc9e88"/>
<rect x="630.16" y="410.15" width="32.24" height="24.05" fill="#d4ccc8"/>
<rect x="340.00" y="434.20" width="32.24" height="24.05" fill="#d0d4d8"/>
<rect x="372.24" y="434.20" width="32.24" height="24.05" fill="#e0e4e0"/>
<rect x="404.48" y="434.20" width="32.24" height="24.05" fill="#d8dcdc"/>
<rect x="436.72" y="434.20" width="32.24" height="24.05" fill="#dce0e4"/>
<rect x="468.96" y="434.20" width="32.24" height="24.05" fill="#c8bcb4"/>
<rect x="501.20" y="434.20" width="32.24" height="24.05" fill="#d4c4b0"/>
<rect x="533.44" y="434.20" width="32.24" height="24.05" fill="#d4ccc8"/>
<rect x="565.68" y="434.20" width="32.24" height="24.05" fill="#ccb8a4"/>
<rect x="597.92" y="434.20" width="32.24" height="24.05" fill="#dcd4c8"/>
<rect x="630.16" y="434.20" width="32.24" height="24.05" fill="#d4c8bc"/>
<ellipse cx="544" cy="421" rx="4.5" ry="5" fill="#a898b8" opacity="0.6"/>
<ellipse cx="539" cy="440" rx="3.5" ry="4" fill="#a898b8" opacity="0.55"/>
</g>
<line x1="340.00" y1="386.10" x2="662.40" y2="386.10" stroke="#505050" stroke-width="0.9"/>
<line x1="340.00" y1="410.15" x2="662.40" y2="410.15" stroke="#505050" stroke-width="0.9"/>
<line x1="340.00" y1="434.20" x2="662.40" y2="434.20" stroke="#505050" stroke-width="0.9"/>
<line x1="340.00" y1="458.25" x2="662.40" y2="458.25" stroke="#505050" stroke-width="0.9"/>
<line x1="340.00" y1="386.10" x2="340.00" y2="458.25" stroke="#505050" stroke-width="0.9"/>
<line x1="372.24" y1="386.10" x2="372.24" y2="458.25" stroke="#505050" stroke-width="0.9"/>
<line x1="404.48" y1="386.10" x2="404.48" y2="458.25" stroke="#505050" stroke-width="0.9"/>
<line x1="436.72" y1="386.10" x2="436.72" y2="458.25" stroke="#505050" stroke-width="0.9"/>
<line x1="468.96" y1="386.10" x2="468.96" y2="458.25" stroke="#505050" stroke-width="0.9"/>
<line x1="501.20" y1="386.10" x2="501.20" y2="458.25" stroke="#505050" stroke-width="0.9"/>
<line x1="533.44" y1="386.10" x2="533.44" y2="458.25" stroke="#505050" stroke-width="0.9"/>
<line x1="565.68" y1="386.10" x2="565.68" y2="458.25" stroke="#505050" stroke-width="0.9"/>
<line x1="597.92" y1="386.10" x2="597.92" y2="458.25" stroke="#505050" stroke-width="0.9"/>
<line x1="630.16" y1="386.10" x2="630.16" y2="458.25" stroke="#505050" stroke-width="0.9"/>
<line x1="662.40" y1="386.10" x2="662.40" y2="458.25" stroke="#505050" stroke-width="0.9"/>
<text x="405.00" y="379.00" font-size="9.0" text-anchor="middle" fill="#231f20" stroke="#231f20" stroke-width="0.12">HLA-A2 negative</text>
<line x1="342.00" y1="381.70" x2="463.00" y2="381.70" stroke="#6a6a6a" stroke-width="1.2"/>
<text x="566.20" y="379.00" font-size="9.0" text-anchor="middle" fill="#231f20" stroke="#231f20" stroke-width="0.12">HLA-A2 positive</text>
<line x1="473.00" y1="381.70" x2="660.00" y2="381.70" stroke="#6a6a6a" stroke-width="1.2"/>
<text x="336.00" y="400.50" font-size="9.0" text-anchor="end" fill="#231f20" stroke="#231f20" stroke-width="0.12">DKK1</text>
<text x="336.00" y="425.35" font-size="9.0" text-anchor="end" fill="#231f20" stroke="#231f20" stroke-width="0.12">HLA-A2</text>
<text x="336.00" y="448.90" font-size="9.0" text-anchor="end" fill="#231f20" stroke="#231f20" stroke-width="0.12">DKK1-A2</text>
<text x="667.00" y="422.10" font-size="9.1" text-anchor="middle" fill="#231f20" stroke="#231f20" stroke-width="0.12" transform="rotate(90 667.0 422.1)">breast cancer</text>
<text x="679.30" y="422.50" font-size="9.1" text-anchor="middle" fill="#231f20" stroke="#231f20" stroke-width="0.12" transform="rotate(90 679.3 422.5)">Triple-negative</text>
<text x="660.00" y="452.80" font-size="5.8" text-anchor="end" fill="#231f20" stroke="#231f20" stroke-width="0.15">100 μm</text>
<line x1="649.80" y1="455.50" x2="660.20" y2="455.50" stroke="#231f20" stroke-width="1.0"/>
</svg>
</body></html>
